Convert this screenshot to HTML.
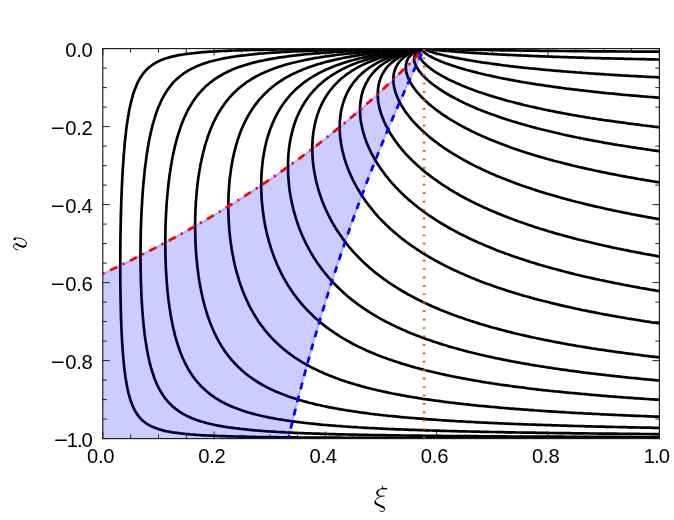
<!DOCTYPE html>
<html><head><meta charset="utf-8"><style>
html,body{margin:0;padding:0;background:#fff}
svg{display:block}
text{font-family:"Liberation Sans",sans-serif;font-size:20.2px;fill:#000}
.ax{font-family:"Liberation Serif",serif;font-style:italic;font-size:29px}
</style></head><body>
<svg width="674" height="520" viewBox="0 0 674 520">
<rect width="674" height="520" fill="#fff"/>
<defs><clipPath id="c"><rect x="102.8" y="48.6" width="556.6" height="390.0"/></clipPath></defs>
<g clip-path="url(#c)">
<g fill="none" stroke="#000" stroke-width="2.7" stroke-linejoin="round" stroke-linecap="butt">
<path d="M424.1 48.6 L425.5 48.6 L426.9 48.7 L428.3 48.7 L430.1 48.8 L432.3 48.8 L434.5 48.9 L436.8 49.0 L439.0 49.0 L441.2 49.1 L443.4 49.1 L445.7 49.2 L447.9 49.2 L450.1 49.3 L452.3 49.3 L454.6 49.4 L456.8 49.4 L459.0 49.5 L461.2 49.5 L463.5 49.6 L465.7 49.6 L467.9 49.7 L470.1 49.7 L472.4 49.8 L474.6 49.8 L476.8 49.8 L479.0 49.9 L481.3 49.9 L483.5 50.0 L485.7 50.0 L488.0 50.0 L490.2 50.1 L492.4 50.1 L494.6 50.1 L496.9 50.2 L499.1 50.2 L501.3 50.3 L503.5 50.3 L505.8 50.3 L508.0 50.4 L510.2 50.4 L512.4 50.4 L514.7 50.4 L516.9 50.5 L519.1 50.5 L521.3 50.5 L523.6 50.6 L525.8 50.6 L528.0 50.6 L530.2 50.6 L532.5 50.7 L534.7 50.7 L536.9 50.7 L539.1 50.8 L541.4 50.8 L543.6 50.8 L545.8 50.8 L548.0 50.9 L550.3 50.9 L552.5 50.9 L554.7 50.9 L557.0 50.9 L559.2 51.0 L561.4 51.0 L563.6 51.0 L565.9 51.0 L568.1 51.1 L570.3 51.1 L572.5 51.1 L574.8 51.1 L577.0 51.1 L579.2 51.2 L581.4 51.2 L583.7 51.2 L585.9 51.2 L588.1 51.2 L590.3 51.3 L592.6 51.3 L594.8 51.3 L597.0 51.3 L599.2 51.3 L601.5 51.3 L603.7 51.4 L605.9 51.4 L608.1 51.4 L610.4 51.4 L612.6 51.4 L614.8 51.4 L617.1 51.5 L619.3 51.5 L621.5 51.5 L623.7 51.5 L626.0 51.5 L628.2 51.5 L630.4 51.5 L632.6 51.6 L634.9 51.6 L637.1 51.6 L639.3 51.6 L641.5 51.6 L643.8 51.6 L646.0 51.6 L648.2 51.7 L650.4 51.7 L652.7 51.7 L654.9 51.7 L657.1 51.7 L659.4 51.7 L661.6 51.7 L663.8 51.7 L666.0 51.8 L668.3 51.8 L670.5 51.8 L670.5 51.8"/>
<path d="M424.1 48.6 L425.5 48.8 L427.0 49.0 L428.6 49.2 L429.9 49.3 L431.7 49.5 L433.9 49.8 L436.1 50.0 L438.3 50.2 L440.5 50.4 L442.7 50.6 L445.0 50.8 L447.2 51.0 L449.4 51.2 L451.6 51.3 L453.8 51.5 L456.0 51.7 L458.2 51.8 L460.4 52.0 L462.7 52.2 L464.9 52.3 L467.1 52.5 L469.3 52.6 L471.5 52.8 L473.7 52.9 L475.9 53.1 L478.2 53.2 L480.4 53.3 L482.6 53.5 L484.8 53.6 L487.0 53.7 L489.3 53.9 L491.5 54.0 L493.7 54.1 L495.9 54.2 L498.1 54.4 L500.4 54.5 L502.6 54.6 L504.8 54.7 L507.0 54.8 L509.2 54.9 L511.5 55.0 L513.7 55.1 L515.9 55.2 L518.1 55.3 L520.3 55.4 L522.6 55.5 L524.8 55.6 L527.0 55.7 L529.2 55.8 L531.5 55.9 L533.7 56.0 L535.9 56.1 L538.1 56.2 L540.3 56.3 L542.6 56.4 L544.8 56.4 L547.0 56.5 L549.2 56.6 L551.5 56.7 L553.7 56.8 L555.9 56.8 L558.1 56.9 L560.4 57.0 L562.6 57.1 L564.8 57.1 L567.0 57.2 L569.2 57.3 L571.5 57.4 L573.7 57.4 L575.9 57.5 L578.1 57.6 L580.4 57.6 L582.6 57.7 L584.8 57.8 L587.0 57.8 L589.3 57.9 L591.5 58.0 L593.7 58.0 L595.9 58.1 L598.2 58.1 L600.4 58.2 L602.6 58.3 L604.8 58.3 L607.1 58.4 L609.3 58.4 L611.5 58.5 L613.7 58.5 L616.0 58.6 L618.2 58.6 L620.4 58.7 L622.6 58.7 L624.9 58.8 L627.1 58.8 L629.3 58.9 L631.5 58.9 L633.8 59.0 L636.0 59.0 L638.2 59.1 L640.4 59.1 L642.7 59.2 L644.9 59.2 L647.1 59.3 L649.3 59.3 L651.6 59.4 L653.8 59.4 L656.0 59.5 L658.2 59.5 L660.5 59.5 L662.7 59.6 L664.9 59.6 L667.1 59.7 L669.4 59.7 L670.5 59.7"/>
<path d="M424.1 48.6 L425.0 49.5 L426.2 50.1 L427.4 50.6 L429.1 51.2 L430.6 51.7 L432.5 52.3 L434.5 52.9 L436.6 53.5 L438.7 54.0 L440.8 54.5 L442.9 55.0 L445.0 55.5 L447.1 56.0 L449.2 56.5 L451.4 56.9 L453.5 57.4 L455.7 57.8 L457.8 58.2 L459.9 58.6 L462.1 59.0 L464.3 59.4 L466.4 59.8 L468.6 60.2 L470.7 60.5 L472.9 60.9 L475.1 61.2 L477.2 61.6 L479.4 61.9 L481.6 62.3 L483.8 62.6 L485.9 62.9 L488.1 63.2 L490.3 63.5 L492.5 63.8 L494.7 64.1 L496.9 64.4 L499.1 64.7 L501.2 65.0 L503.4 65.3 L505.6 65.5 L507.8 65.8 L510.0 66.1 L512.2 66.3 L514.4 66.6 L516.6 66.8 L518.8 67.1 L521.0 67.3 L523.2 67.6 L525.4 67.8 L527.6 68.0 L529.8 68.3 L532.0 68.5 L534.2 68.7 L536.4 68.9 L538.6 69.1 L540.8 69.4 L543.0 69.6 L545.2 69.8 L547.4 70.0 L549.7 70.2 L551.9 70.4 L554.1 70.6 L556.3 70.8 L558.5 70.9 L560.7 71.1 L562.9 71.3 L565.1 71.5 L567.3 71.7 L569.5 71.8 L571.8 72.0 L574.0 72.2 L576.2 72.4 L578.4 72.5 L580.6 72.7 L582.8 72.9 L585.0 73.0 L587.3 73.2 L589.5 73.3 L591.7 73.5 L593.9 73.6 L596.1 73.8 L598.3 73.9 L600.5 74.1 L602.8 74.2 L605.0 74.4 L607.2 74.5 L609.4 74.6 L611.6 74.8 L613.8 74.9 L616.1 75.1 L618.3 75.2 L620.5 75.3 L622.7 75.5 L624.9 75.6 L627.2 75.7 L629.4 75.8 L631.6 76.0 L633.8 76.1 L636.0 76.2 L638.3 76.3 L640.5 76.4 L642.7 76.5 L644.9 76.7 L647.1 76.8 L649.4 76.9 L651.6 77.0 L653.8 77.1 L656.0 77.2 L658.2 77.3 L660.5 77.4 L662.7 77.5 L664.9 77.6 L667.1 77.7 L669.3 77.8 L670.5 77.9"/>
<path d="M424.1 48.6 L423.1 49.2 L423.0 50.5 L423.8 51.7 L424.8 52.7 L425.8 53.6 L427.2 54.5 L428.8 55.6 L430.6 56.5 L432.4 57.5 L434.2 58.4 L436.0 59.2 L437.9 60.1 L439.8 60.9 L441.7 61.7 L443.7 62.4 L445.6 63.2 L447.6 63.9 L449.6 64.6 L451.6 65.3 L453.6 65.9 L455.6 66.6 L457.7 67.2 L459.7 67.9 L461.8 68.5 L463.8 69.1 L465.9 69.7 L467.9 70.2 L470.0 70.8 L472.1 71.4 L474.2 71.9 L476.3 72.4 L478.4 73.0 L480.5 73.5 L482.6 74.0 L484.7 74.5 L486.8 75.0 L488.9 75.4 L491.0 75.9 L493.2 76.4 L495.3 76.8 L497.4 77.3 L499.6 77.7 L501.7 78.2 L503.8 78.6 L506.0 79.0 L508.1 79.4 L510.3 79.8 L512.4 80.2 L514.6 80.6 L516.7 81.0 L518.9 81.4 L521.1 81.8 L523.2 82.1 L525.4 82.5 L527.6 82.9 L529.7 83.2 L531.9 83.6 L534.1 83.9 L536.2 84.3 L538.4 84.6 L540.6 84.9 L542.8 85.2 L544.9 85.6 L547.1 85.9 L549.3 86.2 L551.5 86.5 L553.7 86.8 L555.9 87.1 L558.0 87.4 L560.2 87.7 L562.4 88.0 L564.6 88.3 L566.8 88.6 L569.0 88.8 L571.2 89.1 L573.4 89.4 L575.6 89.6 L577.8 89.9 L579.9 90.2 L582.1 90.4 L584.3 90.7 L586.5 90.9 L588.7 91.2 L590.9 91.4 L593.1 91.7 L595.3 91.9 L597.5 92.1 L599.7 92.4 L601.9 92.6 L604.1 92.8 L606.3 93.1 L608.5 93.3 L610.8 93.5 L613.0 93.7 L615.2 93.9 L617.4 94.1 L619.6 94.3 L621.8 94.6 L624.0 94.8 L626.2 95.0 L628.4 95.2 L630.6 95.4 L632.8 95.6 L635.0 95.7 L637.2 95.9 L639.4 96.1 L641.7 96.3 L643.9 96.5 L646.1 96.7 L648.3 96.9 L650.5 97.0 L652.7 97.2 L654.9 97.4 L657.1 97.6 L659.4 97.7 L661.6 97.9 L663.8 98.1 L666.0 98.2 L668.2 98.4 L670.4 98.6 L670.5 98.6"/>
<path d="M424.1 48.6 L422.9 48.9 L421.7 49.5 L420.6 50.3 L419.8 51.3 L419.2 52.7 L419.1 54.3 L419.4 56.1 L420.0 57.6 L420.9 59.0 L421.8 60.4 L423.0 61.8 L424.2 63.1 L425.5 64.3 L426.8 65.6 L428.3 66.8 L429.7 67.9 L431.3 69.1 L432.8 70.2 L434.4 71.3 L436.1 72.3 L437.7 73.4 L439.4 74.4 L441.1 75.4 L442.9 76.4 L444.6 77.3 L446.4 78.3 L448.2 79.2 L450.0 80.1 L451.8 81.0 L453.7 81.8 L455.6 82.7 L457.4 83.5 L459.3 84.3 L461.2 85.2 L463.1 86.0 L465.1 86.7 L467.0 87.5 L468.9 88.3 L470.9 89.0 L472.9 89.8 L474.8 90.5 L476.8 91.2 L478.8 91.9 L480.8 92.6 L482.8 93.3 L484.8 93.9 L486.8 94.6 L488.8 95.2 L490.9 95.9 L492.9 96.5 L495.0 97.1 L497.0 97.7 L499.1 98.3 L501.1 98.9 L503.2 99.5 L505.2 100.1 L507.3 100.7 L509.4 101.2 L511.5 101.8 L513.6 102.3 L515.7 102.9 L517.7 103.4 L519.8 103.9 L521.9 104.4 L524.0 105.0 L526.2 105.5 L528.3 106.0 L530.4 106.5 L532.5 106.9 L534.6 107.4 L536.7 107.9 L538.9 108.3 L541.0 108.8 L543.1 109.3 L545.2 109.7 L547.4 110.2 L549.5 110.6 L551.7 111.0 L553.8 111.4 L555.9 111.9 L558.1 112.3 L560.2 112.7 L562.4 113.1 L564.5 113.5 L566.7 113.9 L568.8 114.3 L571.0 114.7 L573.2 115.1 L575.3 115.4 L577.5 115.8 L579.6 116.2 L581.8 116.5 L584.0 116.9 L586.1 117.3 L588.3 117.6 L590.5 118.0 L592.7 118.3 L594.8 118.6 L597.0 119.0 L599.2 119.3 L601.4 119.6 L603.5 120.0 L605.7 120.3 L607.9 120.6 L610.1 120.9 L612.3 121.2 L614.4 121.5 L616.6 121.8 L618.8 122.1 L621.0 122.4 L623.2 122.7 L625.4 123.0 L627.5 123.3 L629.7 123.6 L631.9 123.9 L634.1 124.2 L636.3 124.4 L638.5 124.7 L640.7 125.0 L642.9 125.3 L645.1 125.5 L647.3 125.8 L649.5 126.0 L651.7 126.3 L653.9 126.6 L656.1 126.8 L658.3 127.1 L660.4 127.3 L662.6 127.6 L664.8 127.8 L667.0 128.0 L669.2 128.3 L670.5 128.4"/>
<path d="M424.1 48.6 L422.8 48.9 L421.6 49.3 L420.4 49.8 L419.2 50.4 L418.2 51.1 L417.2 52.0 L416.1 53.1 L415.3 54.3 L414.7 55.7 L414.3 57.0 L414.1 58.5 L414.2 60.1 L414.4 61.6 L414.8 63.1 L415.4 64.7 L416.1 66.1 L416.9 67.6 L417.8 69.0 L418.7 70.4 L419.8 71.8 L420.9 73.2 L422.0 74.5 L423.2 75.8 L424.5 77.1 L425.8 78.4 L427.1 79.6 L428.5 80.8 L430.0 82.0 L431.4 83.2 L432.9 84.4 L434.4 85.5 L436.0 86.6 L437.5 87.7 L439.1 88.8 L440.7 89.9 L442.4 91.0 L444.0 92.0 L445.7 93.0 L447.4 94.0 L449.1 95.0 L450.8 96.0 L452.6 97.0 L454.4 97.9 L456.1 98.9 L457.9 99.8 L459.7 100.7 L461.5 101.6 L463.4 102.5 L465.2 103.4 L467.1 104.2 L468.9 105.1 L470.8 105.9 L472.7 106.7 L474.6 107.6 L476.5 108.4 L478.4 109.2 L480.4 109.9 L482.3 110.7 L484.2 111.5 L486.2 112.2 L488.1 113.0 L490.1 113.7 L492.1 114.4 L494.1 115.1 L496.0 115.8 L498.0 116.5 L500.0 117.2 L502.0 117.9 L504.1 118.6 L506.1 119.2 L508.1 119.9 L510.1 120.5 L512.2 121.2 L514.2 121.8 L516.2 122.4 L518.3 123.0 L520.3 123.6 L522.4 124.2 L524.5 124.8 L526.5 125.4 L528.6 126.0 L530.7 126.5 L532.7 127.1 L534.8 127.6 L536.9 128.2 L539.0 128.7 L541.1 129.3 L543.2 129.8 L545.3 130.3 L547.4 130.8 L549.5 131.3 L551.6 131.8 L553.7 132.3 L555.8 132.8 L557.9 133.3 L560.1 133.8 L562.2 134.3 L564.3 134.8 L566.4 135.2 L568.5 135.7 L570.7 136.1 L572.8 136.6 L574.9 137.0 L577.1 137.5 L579.2 137.9 L581.4 138.3 L583.5 138.8 L585.6 139.2 L587.8 139.6 L589.9 140.0 L592.1 140.4 L594.2 140.8 L596.4 141.2 L598.5 141.6 L600.7 142.0 L602.9 142.4 L605.0 142.8 L607.2 143.1 L609.3 143.5 L611.5 143.9 L613.7 144.3 L615.8 144.6 L618.0 145.0 L620.2 145.3 L622.3 145.7 L624.5 146.0 L626.7 146.4 L628.8 146.7 L631.0 147.1 L633.2 147.4 L635.4 147.7 L637.5 148.1 L639.7 148.4 L641.9 148.7 L644.1 149.0 L646.3 149.3 L648.4 149.7 L650.6 150.0 L652.8 150.3 L655.0 150.6 L657.2 150.9 L659.4 151.2 L661.5 151.5 L663.7 151.8 L665.9 152.0 L668.1 152.3 L670.3 152.6 L670.5 152.6"/>
<path d="M424.1 48.6 L422.9 48.8 L421.7 49.1 L420.5 49.5 L419.4 49.9 L418.1 50.4 L416.6 51.1 L415.4 51.7 L414.2 52.5 L412.8 53.4 L411.4 54.6 L410.5 55.5 L409.6 56.5 L408.6 57.7 L407.8 59.2 L407.1 60.6 L406.5 62.2 L406.2 63.7 L405.9 65.2 L405.8 66.8 L405.8 68.4 L406.0 69.9 L406.2 71.5 L406.5 73.0 L407.0 74.5 L407.5 76.1 L408.0 77.6 L408.7 79.1 L409.4 80.5 L410.2 82.0 L411.0 83.5 L411.9 84.9 L412.8 86.3 L413.8 87.7 L414.8 89.1 L415.8 90.5 L416.9 91.8 L418.1 93.2 L419.3 94.5 L420.5 95.8 L421.7 97.1 L423.0 98.4 L424.3 99.7 L425.6 100.9 L426.9 102.1 L428.3 103.4 L429.7 104.6 L431.1 105.8 L432.6 107.0 L434.1 108.1 L435.5 109.3 L437.1 110.4 L438.6 111.6 L440.2 112.7 L441.7 113.8 L443.3 114.9 L444.9 116.0 L446.5 117.0 L448.2 118.1 L449.8 119.1 L451.5 120.2 L453.2 121.2 L454.9 122.2 L456.6 123.2 L458.3 124.2 L460.1 125.1 L461.8 126.1 L463.6 127.0 L465.4 128.0 L467.2 128.9 L469.0 129.8 L470.8 130.7 L472.6 131.6 L474.5 132.5 L476.3 133.4 L478.2 134.2 L480.0 135.1 L481.9 135.9 L483.8 136.8 L485.7 137.6 L487.6 138.4 L489.5 139.2 L491.4 140.0 L493.3 140.8 L495.2 141.6 L497.2 142.3 L499.1 143.1 L501.1 143.8 L503.0 144.6 L505.0 145.3 L507.0 146.0 L508.9 146.8 L510.9 147.5 L512.9 148.2 L514.9 148.9 L516.9 149.6 L518.9 150.2 L520.9 150.9 L522.9 151.6 L525.0 152.2 L527.0 152.9 L529.0 153.5 L531.0 154.1 L533.1 154.8 L535.1 155.4 L537.2 156.0 L539.2 156.6 L541.3 157.2 L543.3 157.8 L545.4 158.4 L547.5 159.0 L549.5 159.5 L551.6 160.1 L553.7 160.7 L555.8 161.2 L557.9 161.8 L559.9 162.3 L562.0 162.8 L564.1 163.4 L566.2 163.9 L568.3 164.4 L570.4 164.9 L572.5 165.5 L574.6 166.0 L576.7 166.5 L578.9 167.0 L581.0 167.4 L583.1 167.9 L585.2 168.4 L587.3 168.9 L589.4 169.3 L591.6 169.8 L593.7 170.3 L595.8 170.7 L598.0 171.2 L600.1 171.6 L602.2 172.1 L604.4 172.5 L606.5 172.9 L608.6 173.4 L610.8 173.8 L612.9 174.2 L615.1 174.6 L617.2 175.0 L619.4 175.5 L621.5 175.9 L623.7 176.3 L625.8 176.7 L628.0 177.1 L630.1 177.4 L632.3 177.8 L634.4 178.2 L636.6 178.6 L638.8 179.0 L640.9 179.3 L643.1 179.7 L645.3 180.1 L647.4 180.4 L649.6 180.8 L651.8 181.2 L653.9 181.5 L656.1 181.9 L658.3 182.2 L660.4 182.5 L662.6 182.9 L664.8 183.2 L667.0 183.6 L669.1 183.9 L670.5 184.1"/>
<path d="M424.1 48.6 L422.8 48.8 L421.6 49.1 L420.2 49.4 L418.8 49.8 L417.6 50.2 L416.3 50.6 L414.8 51.2 L413.1 51.8 L411.9 52.4 L410.7 53.0 L409.4 53.6 L408.0 54.4 L406.6 55.3 L405.2 56.3 L403.7 57.4 L402.3 58.7 L401.0 59.9 L399.8 61.2 L398.7 62.6 L397.8 64.0 L396.9 65.4 L396.1 66.9 L395.5 68.4 L394.9 69.9 L394.4 71.4 L394.0 73.0 L393.7 74.5 L393.5 76.1 L393.4 77.6 L393.4 79.2 L393.4 80.7 L393.5 82.3 L393.6 83.9 L393.9 85.4 L394.1 87.0 L394.5 88.5 L394.9 90.0 L395.3 91.6 L395.8 93.1 L396.3 94.6 L396.9 96.1 L397.5 97.6 L398.2 99.1 L398.9 100.6 L399.6 102.0 L400.4 103.5 L401.2 105.0 L402.1 106.4 L403.0 107.8 L403.9 109.3 L404.8 110.7 L405.8 112.1 L406.8 113.5 L407.8 114.8 L408.9 116.2 L410.0 117.6 L411.1 118.9 L412.2 120.3 L413.4 121.6 L414.6 122.9 L415.8 124.2 L417.1 125.5 L418.3 126.8 L419.6 128.1 L420.9 129.3 L422.2 130.6 L423.6 131.8 L424.9 133.1 L426.3 134.3 L427.7 135.5 L429.2 136.7 L430.6 137.9 L432.1 139.1 L433.5 140.2 L435.0 141.4 L436.6 142.5 L438.1 143.7 L439.6 144.8 L441.2 145.9 L442.8 147.0 L444.3 148.1 L446.0 149.2 L447.6 150.2 L449.2 151.3 L450.9 152.3 L452.5 153.4 L454.2 154.4 L455.9 155.4 L457.6 156.4 L459.3 157.4 L461.0 158.4 L462.7 159.4 L464.5 160.4 L466.2 161.3 L468.0 162.3 L469.8 163.2 L471.6 164.1 L473.4 165.1 L475.2 166.0 L477.0 166.9 L478.8 167.8 L480.7 168.6 L482.5 169.5 L484.4 170.4 L486.2 171.2 L488.1 172.1 L490.0 172.9 L491.9 173.7 L493.8 174.6 L495.7 175.4 L497.6 176.2 L499.5 177.0 L501.4 177.8 L503.3 178.5 L505.3 179.3 L507.2 180.1 L509.2 180.8 L511.1 181.6 L513.1 182.3 L515.1 183.0 L517.0 183.8 L519.0 184.5 L521.0 185.2 L523.0 185.9 L525.0 186.6 L527.0 187.3 L529.0 187.9 L531.0 188.6 L533.0 189.3 L535.0 189.9 L537.1 190.6 L539.1 191.2 L541.1 191.9 L543.1 192.5 L545.2 193.1 L547.2 193.7 L549.3 194.3 L551.3 194.9 L553.4 195.5 L555.4 196.1 L557.5 196.7 L559.6 197.3 L561.6 197.9 L563.7 198.5 L565.8 199.0 L567.9 199.6 L569.9 200.1 L572.0 200.7 L574.1 201.2 L576.2 201.8 L578.3 202.3 L580.4 202.8 L582.5 203.3 L584.6 203.9 L586.7 204.4 L588.8 204.9 L590.9 205.4 L593.0 205.9 L595.1 206.4 L597.3 206.8 L599.4 207.3 L601.5 207.8 L603.6 208.3 L605.7 208.8 L607.9 209.2 L610.0 209.7 L612.1 210.1 L614.2 210.6 L616.4 211.0 L618.5 211.5 L620.6 211.9 L622.8 212.4 L624.9 212.8 L627.1 213.2 L629.2 213.6 L631.4 214.1 L633.5 214.5 L635.6 214.9 L637.8 215.3 L639.9 215.7 L642.1 216.1 L644.2 216.5 L646.4 216.9 L648.6 217.3 L650.7 217.7 L652.9 218.1 L655.0 218.4 L657.2 218.8 L659.4 219.2 L661.5 219.6 L663.7 219.9 L665.8 220.3 L668.0 220.7 L670.2 221.0 L670.5 221.1"/>
<path d="M424.1 48.6 L422.8 48.8 L421.5 49.0 L420.3 49.3 L418.7 49.6 L417.4 50.0 L415.8 50.4 L414.6 50.7 L413.3 51.1 L412.0 51.5 L410.5 52.0 L409.0 52.6 L407.3 53.3 L405.6 54.0 L403.8 54.8 L402.0 55.7 L400.2 56.7 L398.5 57.7 L396.9 58.7 L395.3 59.8 L393.7 60.9 L392.3 62.1 L390.9 63.3 L389.6 64.6 L388.3 65.9 L387.1 67.2 L386.0 68.5 L385.0 69.9 L384.1 71.3 L383.2 72.8 L382.4 74.2 L381.7 75.7 L381.0 77.2 L380.4 78.7 L379.9 80.2 L379.4 81.7 L379.0 83.3 L378.7 84.8 L378.4 86.4 L378.2 87.9 L378.0 89.5 L377.9 91.0 L377.8 92.6 L377.8 94.1 L377.8 95.7 L377.9 97.3 L378.0 98.8 L378.1 100.4 L378.3 101.9 L378.6 103.5 L378.9 105.0 L379.2 106.6 L379.5 108.1 L379.9 109.7 L380.4 111.2 L380.8 112.7 L381.3 114.2 L381.8 115.7 L382.4 117.3 L383.0 118.8 L383.6 120.3 L384.2 121.8 L384.9 123.2 L385.6 124.7 L386.3 126.2 L387.1 127.7 L387.9 129.1 L388.7 130.6 L389.5 132.0 L390.4 133.5 L391.3 134.9 L392.2 136.3 L393.1 137.7 L394.1 139.1 L395.0 140.5 L396.0 141.9 L397.1 143.3 L398.1 144.7 L399.2 146.1 L400.3 147.4 L401.4 148.8 L402.5 150.1 L403.7 151.5 L404.8 152.8 L406.0 154.1 L407.2 155.4 L408.5 156.7 L409.7 158.0 L411.0 159.3 L412.3 160.6 L413.6 161.8 L414.9 163.1 L416.3 164.3 L417.6 165.5 L419.0 166.8 L420.4 168.0 L421.8 169.2 L423.2 170.4 L424.7 171.6 L426.1 172.8 L427.6 173.9 L429.1 175.1 L430.6 176.2 L432.1 177.4 L433.6 178.5 L435.2 179.6 L436.8 180.7 L438.3 181.8 L439.9 182.9 L441.5 184.0 L443.1 185.1 L444.8 186.1 L446.4 187.2 L448.1 188.2 L449.7 189.3 L451.4 190.3 L453.1 191.3 L454.8 192.3 L456.5 193.3 L458.3 194.3 L460.0 195.3 L461.7 196.3 L463.5 197.2 L465.3 198.2 L467.0 199.1 L468.8 200.0 L470.6 201.0 L472.4 201.9 L474.2 202.8 L476.1 203.7 L477.9 204.5 L479.7 205.4 L481.6 206.3 L483.4 207.2 L485.3 208.0 L487.2 208.8 L489.1 209.7 L491.0 210.5 L492.8 211.3 L494.8 212.1 L496.7 212.9 L498.6 213.7 L500.5 214.5 L502.4 215.3 L504.4 216.1 L506.3 216.8 L508.3 217.6 L510.2 218.3 L512.2 219.1 L514.1 219.8 L516.1 220.5 L518.1 221.2 L520.1 221.9 L522.1 222.6 L524.1 223.3 L526.1 224.0 L528.1 224.7 L530.1 225.4 L532.1 226.0 L534.1 226.7 L536.1 227.4 L538.1 228.0 L540.2 228.7 L542.2 229.3 L544.2 229.9 L546.3 230.5 L548.3 231.2 L550.4 231.8 L552.4 232.4 L554.5 233.0 L556.5 233.6 L558.6 234.1 L560.7 234.7 L562.7 235.3 L564.8 235.9 L566.9 236.4 L569.0 237.0 L571.1 237.5 L573.1 238.1 L575.2 238.6 L577.3 239.2 L579.4 239.7 L581.5 240.2 L583.6 240.7 L585.7 241.3 L587.8 241.8 L589.9 242.3 L592.0 242.8 L594.1 243.3 L596.2 243.8 L598.4 244.3 L600.5 244.7 L602.6 245.2 L604.7 245.7 L606.8 246.2 L609.0 246.6 L611.1 247.1 L613.2 247.6 L615.3 248.0 L617.5 248.5 L619.6 248.9 L621.7 249.3 L623.9 249.8 L626.0 250.2 L628.2 250.6 L630.3 251.1 L632.4 251.5 L634.6 251.9 L636.7 252.3 L638.9 252.7 L641.0 253.1 L643.2 253.6 L645.3 254.0 L647.5 254.3 L649.6 254.7 L651.8 255.1 L654.0 255.5 L656.1 255.9 L658.3 256.3 L660.4 256.7 L662.6 257.0 L664.8 257.4 L666.9 257.8 L669.1 258.1 L670.5 258.4"/>
<path d="M424.1 48.6 L422.8 48.8 L421.4 49.0 L420.1 49.2 L418.8 49.5 L417.3 49.8 L415.5 50.2 L414.2 50.5 L412.7 50.8 L411.2 51.2 L409.5 51.7 L407.7 52.3 L405.7 52.9 L403.7 53.5 L401.8 54.2 L399.8 55.0 L397.9 55.8 L396.0 56.6 L394.1 57.5 L392.3 58.3 L390.5 59.3 L388.8 60.2 L387.1 61.3 L385.4 62.3 L383.8 63.4 L382.2 64.5 L380.7 65.6 L379.3 66.8 L377.9 68.0 L376.5 69.3 L375.2 70.5 L374.0 71.8 L372.8 73.2 L371.7 74.5 L370.6 75.9 L369.6 77.3 L368.7 78.7 L367.8 80.1 L367.0 81.6 L366.2 83.0 L365.4 84.5 L364.8 86.0 L364.1 87.5 L363.5 89.0 L363.0 90.5 L362.5 92.0 L362.1 93.5 L361.7 95.1 L361.4 96.6 L361.1 98.2 L360.8 99.7 L360.6 101.3 L360.4 102.8 L360.3 104.4 L360.1 105.9 L360.1 107.5 L360.0 109.1 L360.0 110.6 L360.1 112.2 L360.1 113.7 L360.2 115.3 L360.4 116.9 L360.5 118.4 L360.7 120.0 L360.9 121.5 L361.2 123.1 L361.5 124.6 L361.8 126.2 L362.1 127.7 L362.5 129.2 L362.8 130.8 L363.3 132.3 L363.7 133.8 L364.2 135.4 L364.6 136.9 L365.2 138.4 L365.7 139.9 L366.2 141.4 L366.8 142.9 L367.4 144.4 L368.1 145.9 L368.7 147.4 L369.4 148.9 L370.1 150.4 L370.8 151.9 L371.5 153.3 L372.3 154.8 L373.1 156.3 L373.9 157.7 L374.7 159.2 L375.6 160.6 L376.4 162.0 L377.3 163.5 L378.2 164.9 L379.2 166.3 L380.1 167.7 L381.1 169.1 L382.1 170.5 L383.1 171.9 L384.1 173.3 L385.1 174.7 L386.2 176.1 L387.3 177.4 L388.4 178.8 L389.5 180.1 L390.6 181.5 L391.8 182.8 L393.0 184.1 L394.2 185.4 L395.4 186.8 L396.6 188.1 L397.9 189.3 L399.1 190.6 L400.4 191.9 L401.7 193.2 L403.0 194.4 L404.3 195.7 L405.7 196.9 L407.1 198.2 L408.4 199.4 L409.8 200.6 L411.2 201.8 L412.7 203.0 L414.1 204.2 L415.6 205.4 L417.0 206.5 L418.5 207.7 L420.0 208.9 L421.5 210.0 L423.1 211.1 L424.6 212.3 L426.2 213.4 L427.7 214.5 L429.3 215.6 L430.9 216.7 L432.5 217.7 L434.2 218.8 L435.8 219.9 L437.4 220.9 L439.1 221.9 L440.8 223.0 L442.5 224.0 L444.2 225.0 L445.9 226.0 L447.6 227.0 L449.3 228.0 L451.0 229.0 L452.8 229.9 L454.6 230.9 L456.3 231.8 L458.1 232.8 L459.9 233.7 L461.7 234.6 L463.5 235.5 L465.3 236.4 L467.2 237.3 L469.0 238.2 L470.8 239.1 L472.7 239.9 L474.5 240.8 L476.4 241.6 L478.3 242.5 L480.2 243.3 L482.1 244.1 L484.0 244.9 L485.9 245.8 L487.8 246.5 L489.7 247.3 L491.6 248.1 L493.6 248.9 L495.5 249.7 L497.4 250.4 L499.4 251.2 L501.4 251.9 L503.3 252.6 L505.3 253.4 L507.3 254.1 L509.2 254.8 L511.2 255.5 L513.2 256.2 L515.2 256.9 L517.2 257.6 L519.2 258.3 L521.2 258.9 L523.2 259.6 L525.3 260.3 L527.3 260.9 L529.3 261.5 L531.3 262.2 L533.4 262.8 L535.4 263.4 L537.5 264.1 L539.5 264.7 L541.6 265.3 L543.6 265.9 L545.7 266.5 L547.7 267.0 L549.8 267.6 L551.9 268.2 L554.0 268.8 L556.0 269.3 L558.1 269.9 L560.2 270.4 L562.3 271.0 L564.4 271.5 L566.5 272.1 L568.5 272.6 L570.6 273.1 L572.7 273.6 L574.8 274.2 L576.9 274.7 L579.1 275.2 L581.2 275.7 L583.3 276.2 L585.4 276.7 L587.5 277.2 L589.6 277.6 L591.7 278.1 L593.9 278.6 L596.0 279.1 L598.1 279.5 L600.2 280.0 L602.4 280.4 L604.5 280.9 L606.6 281.3 L608.8 281.8 L610.9 282.2 L613.0 282.6 L615.2 283.1 L617.3 283.5 L619.5 283.9 L621.6 284.3 L623.8 284.8 L625.9 285.2 L628.0 285.6 L630.2 286.0 L632.3 286.4 L634.5 286.8 L636.7 287.2 L638.8 287.6 L641.0 288.0 L643.1 288.3 L645.3 288.7 L647.4 289.1 L649.6 289.5 L651.8 289.8 L653.9 290.2 L656.1 290.6 L658.3 290.9 L660.4 291.3 L662.6 291.6 L664.8 292.0 L666.9 292.3 L669.1 292.7 L670.5 292.9"/>
<path d="M424.1 48.6 L422.9 48.7 L421.4 48.9 L419.9 49.2 L418.5 49.4 L416.7 49.7 L415.4 50.0 L413.9 50.2 L412.3 50.6 L410.6 50.9 L408.7 51.4 L406.6 51.9 L404.5 52.4 L402.5 53.0 L400.4 53.5 L398.4 54.2 L396.3 54.8 L394.3 55.5 L392.3 56.2 L390.4 56.9 L388.4 57.6 L386.5 58.4 L384.6 59.3 L382.7 60.1 L380.9 61.0 L379.1 61.9 L377.3 62.8 L375.5 63.8 L373.8 64.8 L372.2 65.8 L370.5 66.9 L368.9 68.0 L367.4 69.1 L365.9 70.2 L364.4 71.4 L363.0 72.6 L361.6 73.8 L360.3 75.1 L359.0 76.3 L357.7 77.6 L356.5 79.0 L355.4 80.3 L354.3 81.6 L353.2 83.0 L352.2 84.4 L351.2 85.8 L350.3 87.2 L349.4 88.7 L348.6 90.1 L347.8 91.6 L347.1 93.0 L346.4 94.5 L345.7 96.0 L345.1 97.5 L344.5 99.0 L344.0 100.5 L343.4 102.0 L343.0 103.6 L342.5 105.1 L342.1 106.6 L341.8 108.2 L341.4 109.7 L341.1 111.3 L340.8 112.8 L340.6 114.4 L340.4 115.9 L340.2 117.5 L340.1 119.0 L339.9 120.6 L339.8 122.1 L339.8 123.7 L339.7 125.3 L339.7 126.8 L339.7 128.4 L339.7 129.9 L339.8 131.5 L339.9 133.1 L340.0 134.6 L340.1 136.2 L340.3 137.7 L340.5 139.3 L340.7 140.8 L340.9 142.4 L341.1 143.9 L341.4 145.5 L341.7 147.0 L342.0 148.6 L342.3 150.1 L342.7 151.7 L343.1 153.2 L343.4 154.7 L343.9 156.3 L344.3 157.8 L344.7 159.3 L345.2 160.8 L345.7 162.4 L346.2 163.9 L346.8 165.4 L347.3 166.9 L347.9 168.4 L348.5 169.9 L349.1 171.4 L349.7 172.9 L350.4 174.4 L351.0 175.9 L351.7 177.4 L352.4 178.9 L353.1 180.3 L353.9 181.8 L354.6 183.3 L355.4 184.7 L356.2 186.2 L357.0 187.6 L357.9 189.1 L358.7 190.5 L359.6 192.0 L360.5 193.4 L361.4 194.8 L362.3 196.2 L363.3 197.7 L364.2 199.1 L365.2 200.5 L366.2 201.9 L367.2 203.2 L368.2 204.6 L369.3 206.0 L370.4 207.4 L371.5 208.7 L372.6 210.1 L373.7 211.4 L374.8 212.8 L376.0 214.1 L377.1 215.4 L378.3 216.8 L379.5 218.1 L380.8 219.4 L382.0 220.7 L383.3 221.9 L384.6 223.2 L385.8 224.5 L387.2 225.8 L388.5 227.0 L389.8 228.3 L391.2 229.5 L392.6 230.7 L393.9 231.9 L395.4 233.1 L396.8 234.3 L398.2 235.5 L399.7 236.7 L401.1 237.9 L402.6 239.1 L404.1 240.2 L405.6 241.4 L407.1 242.5 L408.7 243.6 L410.2 244.7 L411.8 245.8 L413.4 246.9 L415.0 248.0 L416.6 249.1 L418.2 250.2 L419.8 251.2 L421.5 252.3 L423.1 253.3 L424.8 254.4 L426.5 255.4 L428.2 256.4 L429.9 257.4 L431.6 258.4 L433.3 259.4 L435.1 260.3 L436.8 261.3 L438.6 262.3 L440.4 263.2 L442.2 264.1 L443.9 265.1 L445.7 266.0 L447.6 266.9 L449.4 267.8 L451.2 268.7 L453.0 269.6 L454.9 270.4 L456.8 271.3 L458.6 272.1 L460.5 273.0 L462.4 273.8 L464.3 274.6 L466.2 275.5 L468.1 276.3 L470.0 277.1 L471.9 277.9 L473.8 278.6 L475.8 279.4 L477.7 280.2 L479.6 280.9 L481.6 281.7 L483.6 282.4 L485.5 283.2 L487.5 283.9 L489.5 284.6 L491.4 285.3 L493.4 286.0 L495.4 286.7 L497.4 287.4 L499.4 288.1 L501.4 288.7 L503.5 289.4 L505.5 290.1 L507.5 290.7 L509.5 291.4 L511.6 292.0 L513.6 292.6 L515.6 293.2 L517.7 293.9 L519.7 294.5 L521.8 295.1 L523.8 295.7 L525.9 296.3 L528.0 296.8 L530.0 297.4 L532.1 298.0 L534.2 298.6 L536.3 299.1 L538.3 299.7 L540.4 300.2 L542.5 300.8 L544.6 301.3 L546.7 301.8 L548.8 302.3 L550.9 302.9 L553.0 303.4 L555.1 303.9 L557.2 304.4 L559.3 304.9 L561.4 305.4 L563.5 305.9 L565.7 306.4 L567.8 306.8 L569.9 307.3 L572.0 307.8 L574.1 308.2 L576.3 308.7 L578.4 309.2 L580.5 309.6 L582.7 310.1 L584.8 310.5 L586.9 310.9 L589.1 311.4 L591.2 311.8 L593.4 312.2 L595.5 312.6 L597.7 313.0 L599.8 313.5 L602.0 313.9 L604.1 314.3 L606.3 314.7 L608.4 315.1 L610.6 315.5 L612.7 315.9 L614.9 316.2 L617.0 316.6 L619.2 317.0 L621.4 317.4 L623.5 317.7 L625.7 318.1 L627.8 318.5 L630.0 318.8 L632.2 319.2 L634.3 319.5 L636.5 319.9 L638.7 320.2 L640.9 320.6 L643.0 320.9 L645.2 321.3 L647.4 321.6 L649.6 321.9 L651.7 322.3 L653.9 322.6 L656.1 322.9 L658.3 323.2 L660.4 323.6 L662.6 323.9 L664.8 324.2 L667.0 324.5 L669.2 324.8 L670.5 325.0"/>
<path d="M424.1 48.6 L422.8 48.7 L421.4 48.9 L420.2 49.0 L418.7 49.2 L417.5 49.4 L416.1 49.6 L414.6 49.8 L412.9 50.1 L411.0 50.4 L408.9 50.8 L406.7 51.2 L404.6 51.6 L402.5 52.0 L400.3 52.5 L398.2 52.9 L396.1 53.4 L394.0 53.9 L391.9 54.5 L389.8 55.0 L387.7 55.6 L385.7 56.2 L383.6 56.8 L381.6 57.4 L379.6 58.1 L377.6 58.8 L375.6 59.5 L373.6 60.2 L371.7 60.9 L369.7 61.7 L367.8 62.5 L365.9 63.3 L364.1 64.2 L362.2 65.1 L360.4 66.0 L358.6 66.9 L356.9 67.9 L355.2 68.9 L353.5 69.9 L351.8 70.9 L350.2 72.0 L348.6 73.1 L347.0 74.2 L345.5 75.3 L344.0 76.5 L342.5 77.6 L341.1 78.8 L339.7 80.1 L338.4 81.3 L337.1 82.6 L335.8 83.9 L334.6 85.2 L333.4 86.5 L332.3 87.8 L331.2 89.2 L330.1 90.5 L329.0 91.9 L328.1 93.3 L327.1 94.7 L326.2 96.1 L325.3 97.6 L324.4 99.0 L323.6 100.5 L322.8 101.9 L322.1 103.4 L321.4 104.9 L320.7 106.4 L320.0 107.8 L319.4 109.3 L318.8 110.9 L318.3 112.4 L317.7 113.9 L317.2 115.4 L316.8 116.9 L316.3 118.4 L315.9 120.0 L315.5 121.5 L315.1 123.1 L314.8 124.6 L314.5 126.1 L314.2 127.7 L313.9 129.2 L313.6 130.8 L313.4 132.3 L313.2 133.9 L313.0 135.4 L312.9 137.0 L312.7 138.6 L312.6 140.1 L312.5 141.7 L312.4 143.2 L312.4 144.8 L312.3 146.3 L312.3 147.9 L312.3 149.5 L312.3 151.0 L312.4 152.6 L312.4 154.1 L312.5 155.7 L312.6 157.3 L312.7 158.8 L312.8 160.4 L313.0 161.9 L313.1 163.5 L313.3 165.0 L313.5 166.6 L313.7 168.2 L314.0 169.7 L314.2 171.3 L314.5 172.8 L314.8 174.4 L315.1 175.9 L315.4 177.4 L315.7 179.0 L316.0 180.5 L316.4 182.1 L316.8 183.6 L317.2 185.1 L317.6 186.7 L318.0 188.2 L318.5 189.7 L318.9 191.3 L319.4 192.8 L319.9 194.3 L320.4 195.8 L320.9 197.3 L321.5 198.9 L322.0 200.4 L322.6 201.9 L323.2 203.4 L323.8 204.9 L324.4 206.4 L325.1 207.9 L325.7 209.4 L326.4 210.8 L327.1 212.3 L327.8 213.8 L328.5 215.3 L329.3 216.7 L330.0 218.2 L330.8 219.7 L331.6 221.1 L332.4 222.6 L333.2 224.0 L334.1 225.5 L334.9 226.9 L335.8 228.4 L336.7 229.8 L337.6 231.2 L338.6 232.6 L339.5 234.0 L340.5 235.4 L341.5 236.8 L342.5 238.2 L343.5 239.6 L344.5 241.0 L345.6 242.4 L346.6 243.7 L347.7 245.1 L348.8 246.5 L349.9 247.8 L351.1 249.1 L352.2 250.5 L353.4 251.8 L354.6 253.1 L355.8 254.4 L357.0 255.7 L358.3 257.0 L359.5 258.3 L360.8 259.6 L362.1 260.9 L363.4 262.1 L364.8 263.4 L366.1 264.6 L367.5 265.8 L368.8 267.1 L370.2 268.3 L371.7 269.5 L373.1 270.7 L374.5 271.9 L376.0 273.1 L377.5 274.2 L379.0 275.4 L380.5 276.5 L382.0 277.7 L383.5 278.8 L385.1 279.9 L386.7 281.0 L388.2 282.1 L389.8 283.2 L391.5 284.3 L393.1 285.3 L394.7 286.4 L396.4 287.4 L398.0 288.5 L399.7 289.5 L401.4 290.5 L403.1 291.5 L404.8 292.5 L406.6 293.5 L408.3 294.5 L410.1 295.4 L411.8 296.4 L413.6 297.3 L415.4 298.2 L417.2 299.2 L419.0 300.1 L420.8 301.0 L422.6 301.9 L424.5 302.7 L426.3 303.6 L428.2 304.5 L430.1 305.3 L431.9 306.2 L433.8 307.0 L435.7 307.8 L437.6 308.6 L439.5 309.4 L441.4 310.2 L443.4 311.0 L445.3 311.8 L447.2 312.5 L449.2 313.3 L451.1 314.0 L453.1 314.8 L455.1 315.5 L457.1 316.2 L459.0 316.9 L461.0 317.6 L463.0 318.3 L465.0 319.0 L467.0 319.7 L469.0 320.3 L471.1 321.0 L473.1 321.6 L475.1 322.3 L477.1 322.9 L479.2 323.6 L481.2 324.2 L483.3 324.8 L485.3 325.4 L487.4 326.0 L489.4 326.6 L491.5 327.2 L493.6 327.7 L495.6 328.3 L497.7 328.9 L499.8 329.4 L501.9 330.0 L504.0 330.5 L506.0 331.1 L508.1 331.6 L510.2 332.1 L512.3 332.6 L514.4 333.2 L516.5 333.7 L518.7 334.2 L520.8 334.7 L522.9 335.2 L525.0 335.6 L527.1 336.1 L529.2 336.6 L531.4 337.1 L533.5 337.5 L535.6 338.0 L537.7 338.4 L539.9 338.9 L542.0 339.3 L544.1 339.8 L546.3 340.2 L548.4 340.6 L550.6 341.0 L552.7 341.5 L554.9 341.9 L557.0 342.3 L559.2 342.7 L561.3 343.1 L563.5 343.5 L565.6 343.9 L567.8 344.3 L569.9 344.6 L572.1 345.0 L574.3 345.4 L576.4 345.8 L578.6 346.1 L580.8 346.5 L582.9 346.9 L585.1 347.2 L587.3 347.6 L589.4 347.9 L591.6 348.3 L593.8 348.6 L595.9 348.9 L598.1 349.3 L600.3 349.6 L602.5 349.9 L604.6 350.2 L606.8 350.6 L609.0 350.9 L611.2 351.2 L613.4 351.5 L615.5 351.8 L617.7 352.1 L619.9 352.4 L622.1 352.7 L624.3 353.0 L626.5 353.3 L628.7 353.6 L630.8 353.9 L633.0 354.2 L635.2 354.5 L637.4 354.7 L639.6 355.0 L641.8 355.3 L644.0 355.6 L646.2 355.8 L648.4 356.1 L650.6 356.4 L652.8 356.6 L655.0 356.9 L657.2 357.1 L659.4 357.4 L661.5 357.7 L663.7 357.9 L665.9 358.2 L668.1 358.4 L670.3 358.6 L670.5 358.7"/>
<path d="M424.1 48.6 L422.8 48.7 L421.4 48.8 L420.1 49.0 L418.4 49.2 L417.0 49.3 L415.5 49.5 L413.7 49.7 L411.7 50.0 L409.6 50.3 L407.4 50.6 L405.2 50.9 L403.0 51.3 L400.9 51.6 L398.7 52.0 L396.5 52.4 L394.4 52.8 L392.2 53.2 L390.1 53.6 L388.0 54.1 L385.8 54.5 L383.7 55.0 L381.6 55.5 L379.5 56.0 L377.4 56.5 L375.3 57.1 L373.2 57.6 L371.2 58.2 L369.1 58.8 L367.1 59.4 L365.0 60.0 L363.0 60.7 L361.0 61.4 L359.0 62.1 L357.1 62.8 L355.1 63.6 L353.2 64.3 L351.2 65.1 L349.3 65.9 L347.5 66.8 L345.6 67.6 L343.8 68.5 L342.0 69.4 L340.2 70.4 L338.4 71.3 L336.7 72.3 L335.0 73.3 L333.3 74.3 L331.7 75.4 L330.1 76.5 L328.5 77.6 L326.9 78.7 L325.4 79.8 L323.9 81.0 L322.5 82.2 L321.1 83.4 L319.7 84.6 L318.4 85.8 L317.0 87.1 L315.8 88.4 L314.5 89.7 L313.3 91.0 L312.2 92.3 L311.0 93.7 L309.9 95.0 L308.9 96.4 L307.8 97.8 L306.8 99.2 L305.9 100.6 L304.9 102.0 L304.0 103.4 L303.2 104.9 L302.3 106.3 L301.5 107.8 L300.7 109.2 L300.0 110.7 L299.2 112.2 L298.6 113.6 L297.9 115.1 L297.2 116.6 L296.6 118.1 L296.0 119.6 L295.5 121.1 L294.9 122.6 L294.4 124.2 L293.9 125.7 L293.4 127.2 L293.0 128.7 L292.6 130.3 L292.2 131.8 L291.8 133.3 L291.4 134.9 L291.1 136.4 L290.7 138.0 L290.4 139.5 L290.2 141.1 L289.9 142.6 L289.6 144.2 L289.4 145.7 L289.2 147.3 L289.0 148.8 L288.8 150.4 L288.7 151.9 L288.5 153.5 L288.4 155.0 L288.3 156.6 L288.2 158.2 L288.1 159.7 L288.1 161.3 L288.0 162.8 L288.0 164.4 L288.0 166.0 L288.0 167.5 L288.0 169.1 L288.0 170.6 L288.1 172.2 L288.1 173.7 L288.2 175.3 L288.3 176.9 L288.4 178.4 L288.5 180.0 L288.7 181.5 L288.8 183.1 L289.0 184.7 L289.1 186.2 L289.3 187.8 L289.5 189.3 L289.7 190.9 L290.0 192.4 L290.2 194.0 L290.5 195.5 L290.7 197.1 L291.0 198.6 L291.3 200.2 L291.6 201.7 L292.0 203.2 L292.3 204.8 L292.7 206.3 L293.0 207.9 L293.4 209.4 L293.8 210.9 L294.2 212.5 L294.7 214.0 L295.1 215.5 L295.6 217.1 L296.0 218.6 L296.5 220.1 L297.0 221.6 L297.5 223.1 L298.0 224.7 L298.6 226.2 L299.1 227.7 L299.7 229.2 L300.3 230.7 L300.9 232.2 L301.5 233.7 L302.2 235.2 L302.8 236.7 L303.5 238.2 L304.2 239.7 L304.9 241.1 L305.6 242.6 L306.3 244.1 L307.1 245.6 L307.8 247.0 L308.6 248.5 L309.4 249.9 L310.2 251.4 L311.0 252.8 L311.9 254.3 L312.8 255.7 L313.6 257.2 L314.5 258.6 L315.5 260.0 L316.4 261.4 L317.3 262.8 L318.3 264.2 L319.3 265.6 L320.3 267.0 L321.3 268.4 L322.4 269.8 L323.4 271.2 L324.5 272.5 L325.6 273.9 L326.7 275.2 L327.8 276.6 L329.0 277.9 L330.2 279.2 L331.3 280.6 L332.6 281.9 L333.8 283.2 L335.0 284.5 L336.3 285.8 L337.6 287.0 L338.9 288.3 L340.2 289.6 L341.5 290.8 L342.9 292.0 L344.2 293.3 L345.6 294.5 L347.0 295.7 L348.4 296.9 L349.9 298.1 L351.3 299.3 L352.8 300.4 L354.3 301.6 L355.8 302.7 L357.3 303.9 L358.9 305.0 L360.4 306.1 L362.0 307.2 L363.6 308.3 L365.2 309.4 L366.8 310.5 L368.5 311.5 L370.1 312.6 L371.8 313.6 L373.5 314.6 L375.2 315.6 L376.9 316.6 L378.6 317.6 L380.3 318.6 L382.1 319.6 L383.8 320.5 L385.6 321.5 L387.4 322.4 L389.2 323.3 L391.0 324.2 L392.8 325.1 L394.7 326.0 L396.5 326.9 L398.4 327.7 L400.2 328.6 L402.1 329.4 L404.0 330.3 L405.9 331.1 L407.8 331.9 L409.7 332.7 L411.6 333.5 L413.6 334.2 L415.5 335.0 L417.4 335.8 L419.4 336.5 L421.4 337.3 L423.3 338.0 L425.3 338.7 L427.3 339.4 L429.3 340.1 L431.3 340.8 L433.3 341.5 L435.3 342.1 L437.3 342.8 L439.3 343.4 L441.4 344.1 L443.4 344.7 L445.5 345.3 L447.5 346.0 L449.5 346.6 L451.6 347.2 L453.7 347.8 L455.7 348.3 L457.8 348.9 L459.9 349.5 L461.9 350.0 L464.0 350.6 L466.1 351.1 L468.2 351.7 L470.3 352.2 L472.4 352.7 L474.5 353.2 L476.6 353.8 L478.7 354.3 L480.8 354.8 L482.9 355.2 L485.0 355.7 L487.2 356.2 L489.3 356.7 L491.4 357.1 L493.5 357.6 L495.7 358.1 L497.8 358.5 L499.9 358.9 L502.1 359.4 L504.2 359.8 L506.4 360.2 L508.5 360.7 L510.7 361.1 L512.8 361.5 L515.0 361.9 L517.1 362.3 L519.3 362.7 L521.4 363.1 L523.6 363.4 L525.7 363.8 L527.9 364.2 L530.1 364.6 L532.2 364.9 L534.4 365.3 L536.5 365.7 L538.7 366.0 L540.9 366.4 L543.1 366.7 L545.2 367.0 L547.4 367.4 L549.6 367.7 L551.8 368.0 L553.9 368.4 L556.1 368.7 L558.3 369.0 L560.5 369.3 L562.7 369.6 L564.8 369.9 L567.0 370.2 L569.2 370.6 L571.4 370.8 L573.6 371.1 L575.8 371.4 L577.9 371.7 L580.1 372.0 L582.3 372.3 L584.5 372.6 L586.7 372.8 L588.9 373.1 L591.1 373.4 L593.3 373.6 L595.5 373.9 L597.7 374.2 L599.9 374.4 L602.1 374.7 L604.3 374.9 L606.5 375.2 L608.7 375.4 L610.9 375.7 L613.1 375.9 L615.3 376.2 L617.5 376.4 L619.7 376.6 L621.9 376.9 L624.1 377.1 L626.3 377.3 L628.5 377.6 L630.7 377.8 L632.9 378.0 L635.1 378.2 L637.3 378.4 L639.5 378.6 L641.7 378.9 L643.9 379.1 L646.1 379.3 L648.3 379.5 L650.5 379.7 L652.7 379.9 L654.9 380.1 L657.1 380.3 L659.4 380.5 L661.6 380.7 L663.8 380.9 L666.0 381.1 L668.2 381.3 L670.4 381.4 L670.5 381.5"/>
<path d="M424.1 48.6 L422.9 48.7 L421.4 48.8 L420.0 48.9 L418.8 49.0 L417.4 49.2 L415.7 49.3 L413.8 49.5 L411.6 49.7 L409.4 50.0 L407.2 50.2 L405.0 50.5 L402.9 50.7 L400.7 51.0 L398.5 51.3 L396.3 51.6 L394.1 51.9 L391.9 52.2 L389.7 52.5 L387.6 52.9 L385.4 53.2 L383.2 53.6 L381.1 53.9 L378.9 54.3 L376.8 54.7 L374.6 55.1 L372.5 55.5 L370.3 56.0 L368.2 56.4 L366.1 56.9 L363.9 57.4 L361.8 57.8 L359.7 58.3 L357.6 58.9 L355.5 59.4 L353.5 60.0 L351.4 60.5 L349.3 61.1 L347.3 61.7 L345.2 62.4 L343.2 63.0 L341.2 63.7 L339.2 64.4 L337.2 65.1 L335.3 65.8 L333.3 66.6 L331.4 67.4 L329.5 68.2 L327.6 69.0 L325.7 69.8 L323.9 70.7 L322.0 71.6 L320.2 72.5 L318.4 73.4 L316.7 74.4 L314.9 75.4 L313.2 76.4 L311.6 77.4 L309.9 78.4 L308.3 79.5 L306.7 80.6 L305.2 81.7 L303.6 82.9 L302.1 84.0 L300.7 85.2 L299.2 86.4 L297.8 87.6 L296.5 88.8 L295.1 90.1 L293.8 91.3 L292.6 92.6 L291.3 93.9 L290.1 95.2 L289.0 96.6 L287.8 97.9 L286.7 99.3 L285.7 100.6 L284.6 102.0 L283.6 103.4 L282.6 104.8 L281.7 106.2 L280.8 107.6 L279.9 109.1 L279.0 110.5 L278.2 111.9 L277.3 113.4 L276.6 114.9 L275.8 116.3 L275.1 117.8 L274.4 119.3 L273.7 120.8 L273.0 122.2 L272.4 123.7 L271.8 125.2 L271.2 126.7 L270.6 128.2 L270.0 129.8 L269.5 131.3 L269.0 132.8 L268.5 134.3 L268.0 135.8 L267.6 137.4 L267.1 138.9 L266.7 140.4 L266.3 142.0 L265.9 143.5 L265.6 145.0 L265.2 146.6 L264.9 148.1 L264.6 149.7 L264.3 151.2 L264.0 152.8 L263.7 154.3 L263.5 155.9 L263.2 157.4 L263.0 159.0 L262.8 160.5 L262.6 162.1 L262.4 163.6 L262.3 165.2 L262.1 166.7 L262.0 168.3 L261.8 169.8 L261.7 171.4 L261.6 173.0 L261.5 174.5 L261.4 176.1 L261.4 177.6 L261.3 179.2 L261.3 180.8 L261.3 182.3 L261.2 183.9 L261.2 185.4 L261.2 187.0 L261.3 188.6 L261.3 190.1 L261.3 191.7 L261.4 193.2 L261.5 194.8 L261.5 196.4 L261.6 197.9 L261.7 199.5 L261.8 201.0 L262.0 202.6 L262.1 204.1 L262.3 205.7 L262.4 207.3 L262.6 208.8 L262.8 210.4 L263.0 211.9 L263.2 213.5 L263.4 215.0 L263.6 216.6 L263.9 218.1 L264.1 219.7 L264.4 221.2 L264.6 222.8 L264.9 224.3 L265.2 225.9 L265.5 227.4 L265.9 229.0 L266.2 230.5 L266.6 232.0 L266.9 233.6 L267.3 235.1 L267.7 236.7 L268.1 238.2 L268.5 239.7 L268.9 241.3 L269.3 242.8 L269.8 244.3 L270.3 245.8 L270.7 247.4 L271.2 248.9 L271.7 250.4 L272.3 251.9 L272.8 253.4 L273.3 254.9 L273.9 256.5 L274.5 258.0 L275.1 259.5 L275.7 261.0 L276.3 262.5 L276.9 264.0 L277.6 265.5 L278.3 266.9 L278.9 268.4 L279.6 269.9 L280.4 271.4 L281.1 272.9 L281.8 274.3 L282.6 275.8 L283.4 277.3 L284.2 278.7 L285.0 280.2 L285.8 281.6 L286.7 283.0 L287.5 284.5 L288.4 285.9 L289.3 287.3 L290.3 288.8 L291.2 290.2 L292.2 291.6 L293.1 293.0 L294.1 294.4 L295.2 295.8 L296.2 297.1 L297.3 298.5 L298.3 299.9 L299.4 301.2 L300.5 302.6 L301.7 303.9 L302.8 305.3 L304.0 306.6 L305.2 307.9 L306.4 309.2 L307.7 310.5 L308.9 311.8 L310.2 313.1 L311.5 314.3 L312.8 315.6 L314.1 316.9 L315.5 318.1 L316.9 319.3 L318.3 320.5 L319.7 321.7 L321.1 322.9 L322.6 324.1 L324.0 325.3 L325.5 326.4 L327.0 327.6 L328.6 328.7 L330.1 329.8 L331.7 330.9 L333.3 332.0 L334.9 333.1 L336.5 334.2 L338.1 335.2 L339.8 336.3 L341.5 337.3 L343.2 338.3 L344.9 339.3 L346.6 340.3 L348.3 341.3 L350.1 342.3 L351.8 343.2 L353.6 344.2 L355.4 345.1 L357.2 346.0 L359.0 346.9 L360.9 347.8 L362.7 348.6 L364.6 349.5 L366.4 350.4 L368.3 351.2 L370.2 352.0 L372.1 352.8 L374.0 353.6 L376.0 354.4 L377.9 355.2 L379.8 355.9 L381.8 356.7 L383.7 357.4 L385.7 358.1 L387.7 358.9 L389.7 359.6 L391.7 360.3 L393.7 360.9 L395.7 361.6 L397.7 362.3 L399.7 362.9 L401.8 363.6 L403.8 364.2 L405.8 364.8 L407.9 365.4 L409.9 366.0 L412.0 366.6 L414.1 367.2 L416.1 367.8 L418.2 368.3 L420.3 368.9 L422.4 369.4 L424.5 370.0 L426.6 370.5 L428.7 371.0 L430.8 371.5 L432.9 372.0 L435.0 372.5 L437.1 373.0 L439.2 373.5 L441.3 374.0 L443.5 374.4 L445.6 374.9 L447.7 375.3 L449.9 375.8 L452.0 376.2 L454.1 376.7 L456.3 377.1 L458.4 377.5 L460.6 377.9 L462.7 378.3 L464.9 378.7 L467.0 379.1 L469.2 379.5 L471.3 379.9 L473.5 380.3 L475.6 380.7 L477.8 381.0 L480.0 381.4 L482.1 381.8 L484.3 382.1 L486.5 382.5 L488.7 382.8 L490.8 383.1 L493.0 383.5 L495.2 383.8 L497.4 384.1 L499.5 384.5 L501.7 384.8 L503.9 385.1 L506.1 385.4 L508.3 385.7 L510.4 386.0 L512.6 386.3 L514.8 386.6 L517.0 386.9 L519.2 387.2 L521.4 387.4 L523.6 387.7 L525.8 388.0 L528.0 388.3 L530.1 388.5 L532.3 388.8 L534.5 389.0 L536.7 389.3 L538.9 389.6 L541.1 389.8 L543.3 390.1 L545.5 390.3 L547.7 390.5 L549.9 390.8 L552.1 391.0 L554.3 391.3 L556.5 391.5 L558.7 391.7 L560.9 391.9 L563.1 392.2 L565.3 392.4 L567.5 392.6 L569.8 392.8 L572.0 393.0 L574.2 393.2 L576.4 393.4 L578.6 393.6 L580.8 393.8 L583.0 394.0 L585.2 394.2 L587.4 394.4 L589.6 394.6 L591.8 394.8 L594.0 395.0 L596.2 395.2 L598.5 395.4 L600.7 395.6 L602.9 395.8 L605.1 395.9 L607.3 396.1 L609.5 396.3 L611.7 396.5 L613.9 396.6 L616.2 396.8 L618.4 397.0 L620.6 397.1 L622.8 397.3 L625.0 397.5 L627.2 397.6 L629.4 397.8 L631.6 397.9 L633.9 398.1 L636.1 398.3 L638.3 398.4 L640.5 398.6 L642.7 398.7 L644.9 398.9 L647.2 399.0 L649.4 399.2 L651.6 399.3 L653.8 399.4 L656.0 399.6 L658.2 399.7 L660.5 399.9 L662.7 400.0 L664.9 400.1 L667.1 400.3 L669.3 400.4 L670.5 400.5"/>
<path d="M424.1 48.6 L422.9 48.7 L421.7 48.7 L420.2 48.8 L418.8 48.9 L417.2 49.0 L415.3 49.2 L413.1 49.3 L410.9 49.5 L408.7 49.6 L406.4 49.8 L404.2 50.0 L402.0 50.2 L399.8 50.4 L397.6 50.6 L395.4 50.8 L393.2 51.0 L391.0 51.2 L388.8 51.4 L386.6 51.7 L384.4 51.9 L382.2 52.1 L380.0 52.4 L377.8 52.6 L375.6 52.9 L373.4 53.2 L371.2 53.5 L369.0 53.8 L366.8 54.1 L364.7 54.4 L362.5 54.7 L360.3 55.0 L358.1 55.4 L356.0 55.7 L353.8 56.1 L351.6 56.4 L349.5 56.8 L347.3 57.2 L345.2 57.6 L343.0 58.0 L340.9 58.5 L338.8 58.9 L336.6 59.4 L334.5 59.9 L332.4 60.4 L330.3 60.9 L328.2 61.4 L326.1 61.9 L324.0 62.5 L322.0 63.1 L319.9 63.7 L317.9 64.3 L315.8 64.9 L313.8 65.6 L311.8 66.2 L309.8 66.9 L307.8 67.6 L305.8 68.4 L303.9 69.1 L302.0 69.9 L300.1 70.7 L298.2 71.5 L296.3 72.4 L294.4 73.2 L292.6 74.1 L290.8 75.0 L289.0 76.0 L287.3 76.9 L285.6 77.9 L283.9 78.9 L282.2 80.0 L280.6 81.0 L278.9 82.1 L277.4 83.2 L275.8 84.3 L274.3 85.5 L272.8 86.6 L271.4 87.8 L269.9 89.0 L268.5 90.2 L267.2 91.5 L265.9 92.7 L264.6 94.0 L263.3 95.3 L262.1 96.6 L260.9 97.9 L259.7 99.2 L258.6 100.5 L257.5 101.9 L256.4 103.3 L255.4 104.6 L254.3 106.0 L253.4 107.4 L252.4 108.8 L251.5 110.3 L250.6 111.7 L249.7 113.1 L248.8 114.6 L248.0 116.0 L247.2 117.5 L246.4 118.9 L245.7 120.4 L244.9 121.9 L244.2 123.3 L243.5 124.8 L242.9 126.3 L242.2 127.8 L241.6 129.3 L241.0 130.8 L240.4 132.3 L239.8 133.8 L239.3 135.3 L238.8 136.8 L238.2 138.4 L237.7 139.9 L237.3 141.4 L236.8 142.9 L236.3 144.5 L235.9 146.0 L235.5 147.5 L235.1 149.1 L234.7 150.6 L234.3 152.1 L233.9 153.7 L233.6 155.2 L233.3 156.7 L232.9 158.3 L232.6 159.8 L232.3 161.4 L232.0 162.9 L231.8 164.5 L231.5 166.0 L231.3 167.6 L231.0 169.1 L230.8 170.7 L230.6 172.2 L230.4 173.8 L230.2 175.3 L230.0 176.9 L229.8 178.4 L229.6 180.0 L229.5 181.6 L229.3 183.1 L229.2 184.7 L229.1 186.2 L229.0 187.8 L228.9 189.3 L228.8 190.9 L228.7 192.5 L228.6 194.0 L228.5 195.6 L228.5 197.1 L228.4 198.7 L228.4 200.3 L228.4 201.8 L228.3 203.4 L228.3 204.9 L228.3 206.5 L228.3 208.1 L228.3 209.6 L228.4 211.2 L228.4 212.7 L228.4 214.3 L228.5 215.9 L228.6 217.4 L228.6 219.0 L228.7 220.5 L228.8 222.1 L228.9 223.7 L229.0 225.2 L229.1 226.8 L229.2 228.3 L229.3 229.9 L229.5 231.4 L229.6 233.0 L229.8 234.6 L230.0 236.1 L230.1 237.7 L230.3 239.2 L230.5 240.8 L230.7 242.3 L230.9 243.9 L231.2 245.4 L231.4 247.0 L231.6 248.5 L231.9 250.1 L232.1 251.6 L232.4 253.2 L232.7 254.7 L233.0 256.3 L233.3 257.8 L233.6 259.4 L233.9 260.9 L234.3 262.5 L234.6 264.0 L235.0 265.5 L235.4 267.1 L235.7 268.6 L236.1 270.1 L236.5 271.7 L237.0 273.2 L237.4 274.7 L237.8 276.3 L238.3 277.8 L238.8 279.3 L239.2 280.8 L239.7 282.4 L240.2 283.9 L240.8 285.4 L241.3 286.9 L241.8 288.4 L242.4 289.9 L243.0 291.4 L243.6 292.9 L244.2 294.4 L244.8 295.9 L245.5 297.4 L246.1 298.9 L246.8 300.4 L247.5 301.9 L248.2 303.4 L248.9 304.9 L249.6 306.3 L250.4 307.8 L251.2 309.3 L252.0 310.7 L252.8 312.2 L253.6 313.6 L254.5 315.0 L255.4 316.5 L256.2 317.9 L257.2 319.3 L258.1 320.8 L259.0 322.2 L260.0 323.6 L261.0 325.0 L262.0 326.3 L263.1 327.7 L264.1 329.1 L265.2 330.5 L266.3 331.8 L267.5 333.2 L268.6 334.5 L269.8 335.8 L271.0 337.1 L272.2 338.4 L273.5 339.7 L274.7 341.0 L276.0 342.3 L277.4 343.5 L278.7 344.8 L280.1 346.0 L281.5 347.2 L282.9 348.4 L284.3 349.6 L285.8 350.8 L287.2 352.0 L288.7 353.1 L290.3 354.2 L291.8 355.4 L293.4 356.5 L295.0 357.6 L296.6 358.6 L298.2 359.7 L299.9 360.7 L301.6 361.8 L303.3 362.8 L305.0 363.8 L306.7 364.8 L308.5 365.7 L310.2 366.7 L312.0 367.6 L313.8 368.5 L315.6 369.4 L317.5 370.3 L319.3 371.2 L321.2 372.0 L323.1 372.8 L325.0 373.7 L326.9 374.5 L328.8 375.3 L330.7 376.0 L332.7 376.8 L334.6 377.5 L336.6 378.3 L338.6 379.0 L340.5 379.7 L342.5 380.4 L344.5 381.1 L346.6 381.7 L348.6 382.4 L350.6 383.0 L352.7 383.6 L354.7 384.3 L356.8 384.9 L358.8 385.4 L360.9 386.0 L363.0 386.6 L365.0 387.1 L367.1 387.7 L369.2 388.2 L371.3 388.7 L373.4 389.3 L375.5 389.8 L377.6 390.3 L379.8 390.7 L381.9 391.2 L384.0 391.7 L386.1 392.1 L388.3 392.6 L390.4 393.0 L392.5 393.5 L394.7 393.9 L396.8 394.3 L399.0 394.7 L401.1 395.1 L403.3 395.5 L405.4 395.9 L407.6 396.3 L409.8 396.7 L411.9 397.0 L414.1 397.4 L416.3 397.7 L418.4 398.1 L420.6 398.4 L422.8 398.8 L424.9 399.1 L427.1 399.4 L429.3 399.7 L431.5 400.0 L433.7 400.3 L435.8 400.7 L438.0 400.9 L440.2 401.2 L442.4 401.5 L444.6 401.8 L446.8 402.1 L449.0 402.4 L451.2 402.6 L453.4 402.9 L455.6 403.2 L457.8 403.4 L460.0 403.7 L462.1 403.9 L464.3 404.2 L466.5 404.4 L468.7 404.6 L470.9 404.9 L473.2 405.1 L475.4 405.3 L477.6 405.6 L479.8 405.8 L482.0 406.0 L484.2 406.2 L486.4 406.4 L488.6 406.6 L490.8 406.8 L493.0 407.0 L495.2 407.2 L497.4 407.4 L499.6 407.6 L501.8 407.8 L504.0 408.0 L506.3 408.2 L508.5 408.4 L510.7 408.6 L512.9 408.7 L515.1 408.9 L517.3 409.1 L519.5 409.2 L521.7 409.4 L523.9 409.6 L526.2 409.7 L528.4 409.9 L530.6 410.1 L532.8 410.2 L535.0 410.4 L537.2 410.5 L539.5 410.7 L541.7 410.8 L543.9 411.0 L546.1 411.1 L548.3 411.3 L550.5 411.4 L552.8 411.6 L555.0 411.7 L557.2 411.8 L559.4 412.0 L561.6 412.1 L563.8 412.2 L566.1 412.4 L568.3 412.5 L570.5 412.6 L572.7 412.8 L574.9 412.9 L577.2 413.0 L579.4 413.1 L581.6 413.2 L583.8 413.4 L586.0 413.5 L588.3 413.6 L590.5 413.7 L592.7 413.8 L594.9 413.9 L597.1 414.0 L599.4 414.2 L601.6 414.3 L603.8 414.4 L606.0 414.5 L608.2 414.6 L610.5 414.7 L612.7 414.8 L614.9 414.9 L617.1 415.0 L619.3 415.1 L621.6 415.2 L623.8 415.3 L626.0 415.4 L628.2 415.5 L630.5 415.6 L632.7 415.7 L634.9 415.8 L637.1 415.9 L639.3 415.9 L641.6 416.0 L643.8 416.1 L646.0 416.2 L648.2 416.3 L650.5 416.4 L652.7 416.5 L654.9 416.6 L657.1 416.6 L659.4 416.7 L661.6 416.8 L663.8 416.9 L666.0 417.0 L668.2 417.0 L670.5 417.1 L670.5 417.1"/>
<path d="M424.1 48.6 L422.6 48.7 L420.9 48.7 L419.7 48.8 L418.1 48.8 L416.0 48.9 L413.7 49.0 L411.5 49.1 L409.3 49.2 L407.1 49.3 L404.9 49.5 L402.6 49.6 L400.4 49.7 L398.2 49.8 L396.0 49.9 L393.8 50.1 L391.5 50.2 L389.3 50.3 L387.1 50.5 L384.9 50.6 L382.7 50.7 L380.5 50.9 L378.2 51.0 L376.0 51.2 L373.8 51.4 L371.6 51.5 L369.4 51.7 L367.2 51.9 L365.0 52.1 L362.8 52.3 L360.5 52.5 L358.3 52.7 L356.1 52.9 L353.9 53.1 L351.7 53.3 L349.5 53.5 L347.3 53.7 L345.1 54.0 L342.9 54.2 L340.7 54.5 L338.5 54.7 L336.3 55.0 L334.1 55.3 L332.0 55.6 L329.8 55.9 L327.6 56.2 L325.4 56.5 L323.2 56.8 L321.1 57.1 L318.9 57.5 L316.7 57.8 L314.6 58.2 L312.4 58.6 L310.2 59.0 L308.1 59.4 L305.9 59.8 L303.8 60.3 L301.7 60.7 L299.6 61.2 L297.4 61.7 L295.3 62.2 L293.2 62.7 L291.1 63.2 L289.1 63.8 L287.0 64.3 L284.9 64.9 L282.9 65.6 L280.8 66.2 L278.8 66.8 L276.8 67.5 L274.8 68.2 L272.9 68.9 L270.9 69.7 L269.0 70.5 L267.1 71.3 L265.2 72.1 L263.3 72.9 L261.4 73.8 L259.6 74.7 L257.8 75.6 L256.0 76.5 L254.3 77.5 L252.6 78.5 L250.9 79.5 L249.3 80.6 L247.6 81.6 L246.0 82.7 L244.5 83.9 L243.0 85.0 L241.5 86.2 L240.0 87.3 L238.6 88.5 L237.2 89.8 L235.9 91.0 L234.5 92.3 L233.3 93.5 L232.0 94.8 L230.8 96.1 L229.6 97.4 L228.5 98.8 L227.4 100.1 L226.3 101.5 L225.2 102.9 L224.2 104.3 L223.2 105.7 L222.2 107.1 L221.3 108.5 L220.4 109.9 L219.5 111.3 L218.6 112.8 L217.8 114.2 L217.0 115.7 L216.2 117.1 L215.4 118.6 L214.7 120.1 L214.0 121.5 L213.3 123.0 L212.6 124.5 L212.0 126.0 L211.3 127.5 L210.7 129.0 L210.1 130.5 L209.5 132.0 L209.0 133.5 L208.4 135.0 L207.9 136.5 L207.4 138.1 L206.9 139.6 L206.4 141.1 L205.9 142.6 L205.5 144.1 L205.0 145.7 L204.6 147.2 L204.2 148.7 L203.8 150.3 L203.4 151.8 L203.0 153.3 L202.6 154.9 L202.3 156.4 L201.9 158.0 L201.6 159.5 L201.3 161.1 L200.9 162.6 L200.6 164.1 L200.3 165.7 L200.1 167.2 L199.8 168.8 L199.5 170.3 L199.3 171.9 L199.0 173.4 L198.8 175.0 L198.5 176.5 L198.3 178.1 L198.1 179.6 L197.9 181.2 L197.7 182.7 L197.5 184.3 L197.3 185.9 L197.2 187.4 L197.0 189.0 L196.8 190.5 L196.7 192.1 L196.6 193.6 L196.4 195.2 L196.3 196.8 L196.2 198.3 L196.1 199.9 L195.9 201.4 L195.8 203.0 L195.8 204.5 L195.7 206.1 L195.6 207.7 L195.5 209.2 L195.4 210.8 L195.4 212.3 L195.3 213.9 L195.3 215.5 L195.2 217.0 L195.2 218.6 L195.2 220.1 L195.2 221.7 L195.1 223.3 L195.1 224.8 L195.1 226.4 L195.1 227.9 L195.2 229.5 L195.2 231.1 L195.2 232.6 L195.2 234.2 L195.3 235.7 L195.3 237.3 L195.4 238.9 L195.4 240.4 L195.5 242.0 L195.5 243.5 L195.6 245.1 L195.7 246.7 L195.8 248.2 L195.9 249.8 L196.0 251.3 L196.1 252.9 L196.2 254.4 L196.3 256.0 L196.5 257.6 L196.6 259.1 L196.8 260.7 L196.9 262.2 L197.1 263.8 L197.2 265.3 L197.4 266.9 L197.6 268.4 L197.8 270.0 L198.0 271.6 L198.2 273.1 L198.4 274.7 L198.6 276.2 L198.8 277.8 L199.1 279.3 L199.3 280.9 L199.6 282.4 L199.9 284.0 L200.1 285.5 L200.4 287.1 L200.7 288.6 L201.0 290.2 L201.3 291.7 L201.6 293.2 L202.0 294.8 L202.3 296.3 L202.7 297.9 L203.0 299.4 L203.4 300.9 L203.8 302.5 L204.2 304.0 L204.6 305.5 L205.0 307.1 L205.5 308.6 L205.9 310.1 L206.4 311.7 L206.9 313.2 L207.3 314.7 L207.8 316.2 L208.4 317.7 L208.9 319.3 L209.4 320.8 L210.0 322.3 L210.6 323.8 L211.2 325.3 L211.8 326.8 L212.4 328.3 L213.1 329.8 L213.7 331.3 L214.4 332.8 L215.1 334.2 L215.8 335.7 L216.6 337.2 L217.3 338.7 L218.1 340.1 L218.9 341.6 L219.7 343.0 L220.6 344.5 L221.4 345.9 L222.3 347.3 L223.3 348.7 L224.2 350.2 L225.2 351.6 L226.2 353.0 L227.2 354.3 L228.2 355.7 L229.3 357.1 L230.4 358.4 L231.5 359.8 L232.7 361.1 L233.9 362.4 L235.1 363.8 L236.3 365.0 L237.6 366.3 L238.9 367.6 L240.2 368.8 L241.6 370.1 L243.0 371.3 L244.4 372.5 L245.8 373.7 L247.3 374.9 L248.8 376.0 L250.4 377.1 L251.9 378.2 L253.5 379.3 L255.1 380.4 L256.8 381.5 L258.4 382.5 L260.1 383.5 L261.8 384.5 L263.6 385.5 L265.4 386.4 L267.1 387.4 L268.9 388.3 L270.8 389.2 L272.6 390.0 L274.5 390.9 L276.4 391.7 L278.3 392.5 L280.2 393.3 L282.1 394.1 L284.1 394.8 L286.1 395.5 L288.0 396.3 L290.0 397.0 L292.0 397.6 L294.0 398.3 L296.1 398.9 L298.1 399.6 L300.2 400.2 L302.2 400.8 L304.3 401.4 L306.4 401.9 L308.4 402.5 L310.5 403.0 L312.6 403.5 L314.7 404.1 L316.8 404.6 L319.0 405.0 L321.1 405.5 L323.2 406.0 L325.3 406.4 L327.5 406.9 L329.6 407.3 L331.8 407.7 L333.9 408.1 L336.1 408.5 L338.2 408.9 L340.4 409.3 L342.5 409.7 L344.7 410.0 L346.9 410.4 L349.0 410.7 L351.2 411.0 L353.4 411.4 L355.6 411.7 L357.8 412.0 L359.9 412.3 L362.1 412.6 L364.3 412.9 L366.5 413.2 L368.7 413.5 L370.9 413.8 L373.1 414.0 L375.3 414.3 L377.5 414.5 L379.7 414.8 L381.9 415.0 L384.0 415.3 L386.3 415.5 L388.5 415.8 L390.7 416.0 L392.9 416.2 L395.1 416.4 L397.3 416.6 L399.5 416.9 L401.7 417.1 L403.9 417.3 L406.1 417.5 L408.3 417.7 L410.5 417.8 L412.7 418.0 L414.9 418.2 L417.1 418.4 L419.4 418.6 L421.6 418.7 L423.8 418.9 L426.0 419.1 L428.2 419.3 L430.4 419.4 L432.6 419.6 L434.9 419.7 L437.1 419.9 L439.3 420.0 L441.5 420.2 L443.7 420.3 L445.9 420.5 L448.2 420.6 L450.4 420.8 L452.6 420.9 L454.8 421.0 L457.0 421.2 L459.2 421.3 L461.5 421.4 L463.7 421.5 L465.9 421.7 L468.1 421.8 L470.3 421.9 L472.6 422.0 L474.8 422.1 L477.0 422.3 L479.2 422.4 L481.4 422.5 L483.7 422.6 L485.9 422.7 L488.1 422.8 L490.3 422.9 L492.5 423.0 L494.8 423.1 L497.0 423.2 L499.2 423.3 L501.4 423.4 L503.7 423.5 L505.9 423.6 L508.1 423.7 L510.3 423.8 L512.5 423.9 L514.8 424.0 L517.0 424.0 L519.2 424.1 L521.4 424.2 L523.7 424.3 L525.9 424.4 L528.1 424.5 L530.3 424.5 L532.5 424.6 L534.8 424.7 L537.0 424.8 L539.2 424.9 L541.4 424.9 L543.7 425.0 L545.9 425.1 L548.1 425.2 L550.3 425.2 L552.6 425.3 L554.8 425.4 L557.0 425.4 L559.2 425.5 L561.5 425.6 L563.7 425.6 L565.9 425.7 L568.1 425.8 L570.4 425.8 L572.6 425.9 L574.8 426.0 L577.0 426.0 L579.2 426.1 L581.5 426.2 L583.7 426.2 L585.9 426.3 L588.1 426.3 L590.4 426.4 L592.6 426.5 L594.8 426.5 L597.0 426.6 L599.3 426.6 L601.5 426.7 L603.7 426.7 L605.9 426.8 L608.2 426.8 L610.4 426.9 L612.6 426.9 L614.8 427.0 L617.1 427.0 L619.3 427.1 L621.5 427.1 L623.7 427.2 L626.0 427.2 L628.2 427.3 L630.4 427.3 L632.6 427.4 L634.9 427.4 L637.1 427.5 L639.3 427.5 L641.5 427.6 L643.8 427.6 L646.0 427.7 L648.2 427.7 L650.4 427.7 L652.7 427.8 L654.9 427.8 L657.1 427.9 L659.4 427.9 L661.6 428.0 L663.8 428.0 L666.0 428.0 L668.3 428.1 L670.5 428.1 L670.5 428.1"/>
<path d="M424.1 48.6 L422.6 48.6 L421.1 48.7 L419.6 48.7 L417.6 48.7 L415.4 48.8 L413.2 48.8 L411.0 48.9 L408.7 49.0 L406.5 49.0 L404.3 49.1 L402.1 49.1 L399.8 49.2 L397.6 49.3 L395.4 49.3 L393.2 49.4 L390.9 49.5 L388.7 49.5 L386.5 49.6 L384.3 49.7 L382.1 49.8 L379.8 49.8 L377.6 49.9 L375.4 50.0 L373.2 50.1 L370.9 50.2 L368.7 50.3 L366.5 50.4 L364.3 50.5 L362.1 50.6 L359.8 50.7 L357.6 50.8 L355.4 50.9 L353.2 51.0 L350.9 51.1 L348.7 51.2 L346.5 51.3 L344.3 51.5 L342.1 51.6 L339.8 51.7 L337.6 51.8 L335.4 52.0 L333.2 52.1 L331.0 52.3 L328.8 52.4 L326.6 52.6 L324.3 52.7 L322.1 52.9 L319.9 53.1 L317.7 53.3 L315.5 53.4 L313.3 53.6 L311.1 53.8 L308.9 54.0 L306.7 54.2 L304.5 54.4 L302.2 54.7 L300.0 54.9 L297.8 55.1 L295.6 55.4 L293.5 55.6 L291.3 55.9 L289.1 56.2 L286.9 56.5 L284.7 56.8 L282.5 57.1 L280.3 57.4 L278.2 57.7 L276.0 58.1 L273.8 58.4 L271.7 58.8 L269.5 59.2 L267.4 59.6 L265.2 60.0 L263.1 60.5 L260.9 60.9 L258.8 61.4 L256.7 61.9 L254.6 62.4 L252.5 62.9 L250.4 63.5 L248.4 64.1 L246.3 64.7 L244.3 65.3 L242.3 66.0 L240.3 66.6 L238.3 67.3 L236.3 68.1 L234.4 68.8 L232.4 69.6 L230.5 70.4 L228.7 71.3 L226.8 72.2 L225.0 73.1 L223.2 74.0 L221.5 75.0 L219.8 76.0 L218.1 77.0 L216.5 78.0 L214.8 79.1 L213.3 80.2 L211.8 81.4 L210.3 82.5 L208.8 83.7 L207.4 84.9 L206.0 86.1 L204.7 87.4 L203.4 88.7 L202.2 90.0 L201.0 91.3 L199.8 92.6 L198.6 93.9 L197.5 95.3 L196.5 96.7 L195.4 98.0 L194.4 99.4 L193.5 100.8 L192.5 102.3 L191.6 103.7 L190.8 105.1 L189.9 106.6 L189.1 108.0 L188.3 109.5 L187.5 110.9 L186.8 112.4 L186.1 113.9 L185.4 115.4 L184.7 116.8 L184.0 118.3 L183.4 119.8 L182.8 121.3 L182.2 122.8 L181.6 124.3 L181.0 125.8 L180.5 127.4 L180.0 128.9 L179.5 130.4 L179.0 131.9 L178.5 133.4 L178.0 135.0 L177.6 136.5 L177.1 138.0 L176.7 139.5 L176.3 141.1 L175.9 142.6 L175.5 144.2 L175.1 145.7 L174.7 147.2 L174.4 148.8 L174.0 150.3 L173.7 151.8 L173.3 153.4 L173.0 154.9 L172.7 156.5 L172.4 158.0 L172.1 159.6 L171.8 161.1 L171.6 162.7 L171.3 164.2 L171.0 165.8 L170.8 167.3 L170.5 168.9 L170.3 170.4 L170.1 172.0 L169.8 173.5 L169.6 175.1 L169.4 176.6 L169.2 178.2 L169.0 179.7 L168.8 181.3 L168.6 182.8 L168.4 184.4 L168.3 186.0 L168.1 187.5 L167.9 189.1 L167.8 190.6 L167.6 192.2 L167.5 193.7 L167.3 195.3 L167.2 196.8 L167.1 198.4 L166.9 200.0 L166.8 201.5 L166.7 203.1 L166.6 204.6 L166.5 206.2 L166.4 207.7 L166.3 209.3 L166.2 210.9 L166.1 212.4 L166.0 214.0 L166.0 215.5 L165.9 217.1 L165.8 218.7 L165.7 220.2 L165.7 221.8 L165.6 223.3 L165.6 224.9 L165.5 226.5 L165.5 228.0 L165.5 229.6 L165.4 231.1 L165.4 232.7 L165.4 234.3 L165.3 235.8 L165.3 237.4 L165.3 238.9 L165.3 240.5 L165.3 242.1 L165.3 243.6 L165.3 245.2 L165.3 246.7 L165.3 248.3 L165.4 249.9 L165.4 251.4 L165.4 253.0 L165.4 254.5 L165.5 256.1 L165.5 257.7 L165.6 259.2 L165.6 260.8 L165.7 262.3 L165.7 263.9 L165.8 265.5 L165.8 267.0 L165.9 268.6 L166.0 270.1 L166.1 271.7 L166.2 273.3 L166.3 274.8 L166.4 276.4 L166.5 277.9 L166.6 279.5 L166.7 281.0 L166.8 282.6 L166.9 284.2 L167.1 285.7 L167.2 287.3 L167.3 288.8 L167.5 290.4 L167.6 291.9 L167.8 293.5 L168.0 295.1 L168.1 296.6 L168.3 298.2 L168.5 299.7 L168.7 301.3 L168.9 302.8 L169.1 304.4 L169.3 305.9 L169.5 307.5 L169.8 309.0 L170.0 310.6 L170.2 312.1 L170.5 313.7 L170.7 315.2 L171.0 316.8 L171.3 318.3 L171.6 319.9 L171.9 321.4 L172.2 323.0 L172.5 324.5 L172.8 326.1 L173.2 327.6 L173.5 329.1 L173.9 330.7 L174.2 332.2 L174.6 333.8 L175.0 335.3 L175.4 336.8 L175.8 338.4 L176.3 339.9 L176.7 341.4 L177.2 342.9 L177.7 344.5 L178.2 346.0 L178.7 347.5 L179.2 349.0 L179.7 350.5 L180.3 352.0 L180.9 353.6 L181.5 355.1 L182.1 356.6 L182.7 358.0 L183.4 359.5 L184.1 361.0 L184.8 362.5 L185.5 364.0 L186.3 365.4 L187.1 366.9 L187.9 368.4 L188.7 369.8 L189.6 371.2 L190.5 372.7 L191.4 374.1 L192.3 375.5 L193.3 376.9 L194.4 378.3 L195.4 379.7 L196.5 381.0 L197.6 382.4 L198.8 383.7 L200.0 385.0 L201.2 386.3 L202.5 387.6 L203.8 388.8 L205.2 390.1 L206.6 391.3 L208.0 392.5 L209.5 393.7 L211.0 394.8 L212.5 395.9 L214.1 397.0 L215.7 398.1 L217.4 399.1 L219.0 400.2 L220.8 401.2 L222.5 402.1 L224.3 403.0 L226.1 404.0 L228.0 404.8 L229.8 405.7 L231.7 406.5 L233.6 407.3 L235.6 408.1 L237.5 408.8 L239.5 409.5 L241.5 410.2 L243.5 410.9 L245.5 411.6 L247.6 412.2 L249.6 412.8 L251.7 413.4 L253.8 413.9 L255.8 414.5 L257.9 415.0 L260.0 415.5 L262.2 416.0 L264.3 416.5 L266.4 416.9 L268.5 417.4 L270.7 417.8 L272.8 418.2 L275.0 418.6 L277.1 419.0 L279.3 419.3 L281.5 419.7 L283.6 420.0 L285.8 420.4 L288.0 420.7 L290.2 421.0 L292.4 421.3 L294.5 421.6 L296.7 421.9 L298.9 422.2 L301.1 422.5 L303.3 422.7 L305.5 423.0 L307.7 423.2 L309.9 423.5 L312.1 423.7 L314.3 423.9 L316.5 424.1 L318.7 424.3 L320.9 424.6 L323.1 424.8 L325.3 425.0 L327.6 425.1 L329.8 425.3 L332.0 425.5 L334.2 425.7 L336.4 425.9 L338.6 426.0 L340.8 426.2 L343.0 426.4 L345.3 426.5 L347.5 426.7 L349.7 426.8 L351.9 427.0 L354.1 427.1 L356.3 427.2 L358.6 427.4 L360.8 427.5 L363.0 427.6 L365.2 427.8 L367.4 427.9 L369.6 428.0 L371.9 428.1 L374.1 428.2 L376.3 428.3 L378.5 428.5 L380.8 428.6 L383.0 428.7 L385.2 428.8 L387.4 428.9 L389.6 429.0 L391.9 429.1 L394.1 429.2 L396.3 429.3 L398.5 429.3 L400.7 429.4 L403.0 429.5 L405.2 429.6 L407.4 429.7 L409.6 429.8 L411.9 429.9 L414.1 429.9 L416.3 430.0 L418.5 430.1 L420.8 430.2 L423.0 430.2 L425.2 430.3 L427.4 430.4 L429.7 430.5 L431.9 430.5 L434.1 430.6 L436.3 430.7 L438.5 430.7 L440.8 430.8 L443.0 430.9 L445.2 430.9 L447.4 431.0 L449.7 431.0 L451.9 431.1 L454.1 431.1 L456.3 431.2 L458.6 431.3 L460.8 431.3 L463.0 431.4 L465.2 431.4 L467.5 431.5 L469.7 431.5 L471.9 431.6 L474.1 431.6 L476.4 431.7 L478.6 431.7 L480.8 431.8 L483.0 431.8 L485.3 431.9 L487.5 431.9 L489.7 432.0 L491.9 432.0 L494.2 432.0 L496.4 432.1 L498.6 432.1 L500.8 432.2 L503.1 432.2 L505.3 432.3 L507.5 432.3 L509.7 432.3 L512.0 432.4 L514.2 432.4 L516.4 432.5 L518.7 432.5 L520.9 432.5 L523.1 432.6 L525.3 432.6 L527.6 432.6 L529.8 432.7 L532.0 432.7 L534.2 432.7 L536.5 432.8 L538.7 432.8 L540.9 432.8 L543.1 432.9 L545.4 432.9 L547.6 432.9 L549.8 433.0 L552.0 433.0 L554.3 433.0 L556.5 433.1 L558.7 433.1 L560.9 433.1 L563.2 433.1 L565.4 433.2 L567.6 433.2 L569.8 433.2 L572.1 433.3 L574.3 433.3 L576.5 433.3 L578.7 433.3 L581.0 433.4 L583.2 433.4 L585.4 433.4 L587.7 433.4 L589.9 433.5 L592.1 433.5 L594.3 433.5 L596.6 433.5 L598.8 433.6 L601.0 433.6 L603.2 433.6 L605.5 433.6 L607.7 433.6 L609.9 433.7 L612.1 433.7 L614.4 433.7 L616.6 433.7 L618.8 433.8 L621.0 433.8 L623.3 433.8 L625.5 433.8 L627.7 433.8 L629.9 433.9 L632.2 433.9 L634.4 433.9 L636.6 433.9 L638.8 433.9 L641.1 434.0 L643.3 434.0 L645.5 434.0 L647.8 434.0 L650.0 434.0 L652.2 434.1 L654.4 434.1 L656.7 434.1 L658.9 434.1 L661.1 434.1 L663.3 434.1 L665.6 434.2 L667.8 434.2 L670.0 434.2 L670.5 434.2"/>
<path d="M424.1 48.6 L422.9 48.6 L421.1 48.6 L419.1 48.6 L416.9 48.7 L414.7 48.7 L412.4 48.7 L410.2 48.7 L408.0 48.8 L405.8 48.8 L403.5 48.8 L401.3 48.8 L399.1 48.9 L396.9 48.9 L394.6 48.9 L392.4 49.0 L390.2 49.0 L388.0 49.0 L385.7 49.0 L383.5 49.1 L381.3 49.1 L379.0 49.1 L376.8 49.2 L374.6 49.2 L372.4 49.2 L370.1 49.3 L367.9 49.3 L365.7 49.4 L363.5 49.4 L361.2 49.4 L359.0 49.5 L356.8 49.5 L354.6 49.6 L352.3 49.6 L350.1 49.7 L347.9 49.7 L345.7 49.8 L343.4 49.8 L341.2 49.9 L339.0 49.9 L336.8 50.0 L334.5 50.0 L332.3 50.1 L330.1 50.2 L327.9 50.2 L325.6 50.3 L323.4 50.3 L321.2 50.4 L319.0 50.5 L316.7 50.6 L314.5 50.6 L312.3 50.7 L310.1 50.8 L307.9 50.9 L305.6 51.0 L303.4 51.1 L301.2 51.1 L299.0 51.2 L296.7 51.3 L294.5 51.4 L292.3 51.5 L290.1 51.7 L287.9 51.8 L285.6 51.9 L283.4 52.0 L281.2 52.1 L279.0 52.3 L276.8 52.4 L274.6 52.6 L272.3 52.7 L270.1 52.9 L267.9 53.0 L265.7 53.2 L263.5 53.4 L261.3 53.5 L259.1 53.7 L256.9 53.9 L254.6 54.1 L252.4 54.4 L250.2 54.6 L248.0 54.8 L245.8 55.1 L243.6 55.3 L241.5 55.6 L239.3 55.9 L237.1 56.2 L234.9 56.5 L232.7 56.8 L230.6 57.2 L228.4 57.6 L226.2 57.9 L224.1 58.3 L221.9 58.8 L219.8 59.2 L217.7 59.7 L215.6 60.2 L213.5 60.7 L211.4 61.3 L209.3 61.8 L207.3 62.5 L205.3 63.1 L203.3 63.8 L201.3 64.5 L199.3 65.2 L197.4 66.0 L195.5 66.9 L193.7 67.7 L191.8 68.6 L190.1 69.6 L188.3 70.5 L186.6 71.6 L185.0 72.6 L183.4 73.7 L181.9 74.8 L180.4 76.0 L178.9 77.2 L177.5 78.4 L176.2 79.6 L174.9 80.9 L173.7 82.2 L172.5 83.5 L171.3 84.9 L170.2 86.2 L169.2 87.6 L168.2 89.0 L167.2 90.4 L166.3 91.8 L165.4 93.2 L164.5 94.7 L163.7 96.1 L162.9 97.6 L162.1 99.0 L161.4 100.5 L160.7 102.0 L160.0 103.5 L159.4 105.0 L158.7 106.5 L158.1 108.0 L157.5 109.5 L157.0 111.0 L156.4 112.5 L155.9 114.0 L155.4 115.5 L154.9 117.1 L154.5 118.6 L154.0 120.1 L153.6 121.6 L153.1 123.2 L152.7 124.7 L152.3 126.2 L151.9 127.8 L151.6 129.3 L151.2 130.8 L150.8 132.4 L150.5 133.9 L150.2 135.5 L149.8 137.0 L149.5 138.6 L149.2 140.1 L148.9 141.6 L148.6 143.2 L148.4 144.7 L148.1 146.3 L147.8 147.8 L147.6 149.4 L147.3 150.9 L147.1 152.5 L146.8 154.0 L146.6 155.6 L146.4 157.1 L146.2 158.7 L146.0 160.3 L145.8 161.8 L145.6 163.4 L145.4 164.9 L145.2 166.5 L145.0 168.0 L144.8 169.6 L144.6 171.1 L144.5 172.7 L144.3 174.2 L144.2 175.8 L144.0 177.4 L143.9 178.9 L143.7 180.5 L143.6 182.0 L143.4 183.6 L143.3 185.1 L143.2 186.7 L143.0 188.3 L142.9 189.8 L142.8 191.4 L142.7 192.9 L142.6 194.5 L142.5 196.0 L142.4 197.6 L142.2 199.2 L142.1 200.7 L142.1 202.3 L142.0 203.8 L141.9 205.4 L141.8 207.0 L141.7 208.5 L141.6 210.1 L141.5 211.6 L141.5 213.2 L141.4 214.7 L141.3 216.3 L141.3 217.9 L141.2 219.4 L141.1 221.0 L141.1 222.5 L141.0 224.1 L141.0 225.7 L140.9 227.2 L140.9 228.8 L140.8 230.3 L140.8 231.9 L140.8 233.5 L140.7 235.0 L140.7 236.6 L140.7 238.1 L140.6 239.7 L140.6 241.3 L140.6 242.8 L140.6 244.4 L140.6 245.9 L140.5 247.5 L140.5 249.1 L140.5 250.6 L140.5 252.2 L140.5 253.7 L140.5 255.3 L140.5 256.9 L140.5 258.4 L140.5 260.0 L140.5 261.5 L140.5 263.1 L140.6 264.7 L140.6 266.2 L140.6 267.8 L140.6 269.3 L140.6 270.9 L140.7 272.5 L140.7 274.0 L140.7 275.6 L140.8 277.1 L140.8 278.7 L140.9 280.3 L140.9 281.8 L140.9 283.4 L141.0 284.9 L141.1 286.5 L141.1 288.1 L141.2 289.6 L141.2 291.2 L141.3 292.7 L141.4 294.3 L141.5 295.9 L141.5 297.4 L141.6 299.0 L141.7 300.5 L141.8 302.1 L141.9 303.6 L142.0 305.2 L142.1 306.8 L142.2 308.3 L142.3 309.9 L142.4 311.4 L142.5 313.0 L142.7 314.6 L142.8 316.1 L142.9 317.7 L143.1 319.2 L143.2 320.8 L143.3 322.3 L143.5 323.9 L143.7 325.5 L143.8 327.0 L144.0 328.6 L144.2 330.1 L144.4 331.7 L144.5 333.2 L144.7 334.8 L144.9 336.3 L145.1 337.9 L145.4 339.4 L145.6 341.0 L145.8 342.5 L146.1 344.1 L146.3 345.6 L146.6 347.2 L146.8 348.7 L147.1 350.3 L147.4 351.8 L147.7 353.4 L148.0 354.9 L148.3 356.5 L148.7 358.0 L149.0 359.6 L149.4 361.1 L149.7 362.6 L150.1 364.2 L150.5 365.7 L150.9 367.2 L151.4 368.8 L151.8 370.3 L152.3 371.8 L152.8 373.3 L153.3 374.9 L153.8 376.4 L154.3 377.9 L154.9 379.4 L155.5 380.9 L156.1 382.4 L156.8 383.9 L157.5 385.4 L158.2 386.9 L158.9 388.3 L159.7 389.8 L160.5 391.2 L161.4 392.7 L162.3 394.1 L163.2 395.5 L164.2 396.9 L165.2 398.3 L166.3 399.7 L167.4 401.0 L168.6 402.3 L169.8 403.6 L171.1 404.9 L172.4 406.2 L173.8 407.4 L175.3 408.6 L176.8 409.7 L178.3 410.8 L179.9 411.9 L181.6 413.0 L183.3 414.0 L185.0 414.9 L186.8 415.9 L188.7 416.7 L190.5 417.6 L192.4 418.4 L194.4 419.1 L196.4 419.9 L198.4 420.6 L200.4 421.2 L202.4 421.8 L204.5 422.4 L206.6 423.0 L208.6 423.5 L210.8 424.0 L212.9 424.5 L215.0 425.0 L217.1 425.4 L219.3 425.8 L221.4 426.2 L223.6 426.6 L225.8 426.9 L227.9 427.3 L230.1 427.6 L232.3 427.9 L234.5 428.2 L236.7 428.4 L238.9 428.7 L241.1 429.0 L243.3 429.2 L245.5 429.4 L247.7 429.7 L249.9 429.9 L252.1 430.1 L254.3 430.3 L256.5 430.5 L258.7 430.6 L260.9 430.8 L263.1 431.0 L265.4 431.2 L267.6 431.3 L269.8 431.5 L272.0 431.6 L274.2 431.7 L276.4 431.9 L278.7 432.0 L280.9 432.1 L283.1 432.2 L285.3 432.4 L287.5 432.5 L289.8 432.6 L292.0 432.7 L294.2 432.8 L296.4 432.9 L298.7 433.0 L300.9 433.1 L303.1 433.2 L305.3 433.3 L307.5 433.3 L309.8 433.4 L312.0 433.5 L314.2 433.6 L316.4 433.7 L318.7 433.7 L320.9 433.8 L323.1 433.9 L325.3 433.9 L327.6 434.0 L329.8 434.1 L332.0 434.1 L334.2 434.2 L336.5 434.3 L338.7 434.3 L340.9 434.4 L343.1 434.4 L345.4 434.5 L347.6 434.5 L349.8 434.6 L352.0 434.6 L354.3 434.7 L356.5 434.7 L358.7 434.8 L360.9 434.8 L363.2 434.9 L365.4 434.9 L367.6 434.9 L369.8 435.0 L372.1 435.0 L374.3 435.1 L376.5 435.1 L378.7 435.1 L381.0 435.2 L383.2 435.2 L385.4 435.2 L387.6 435.3 L389.9 435.3 L392.1 435.4 L394.3 435.4 L396.5 435.4 L398.8 435.4 L401.0 435.5 L403.2 435.5 L405.4 435.5 L407.7 435.6 L409.9 435.6 L412.1 435.6 L414.3 435.6 L416.6 435.7 L418.8 435.7 L421.0 435.7 L423.2 435.8 L425.5 435.8 L427.7 435.8 L429.9 435.8 L432.1 435.8 L434.4 435.9 L436.6 435.9 L438.8 435.9 L441.1 435.9 L443.3 436.0 L445.5 436.0 L447.7 436.0 L450.0 436.0 L452.2 436.0 L454.4 436.1 L456.6 436.1 L458.9 436.1 L461.1 436.1 L463.3 436.1 L465.5 436.2 L467.8 436.2 L470.0 436.2 L472.2 436.2 L474.4 436.2 L476.7 436.2 L478.9 436.3 L481.1 436.3 L483.3 436.3 L485.6 436.3 L487.8 436.3 L490.0 436.3 L492.3 436.4 L494.5 436.4 L496.7 436.4 L498.9 436.4 L501.2 436.4 L503.4 436.4 L505.6 436.4 L507.8 436.5 L510.1 436.5 L512.3 436.5 L514.5 436.5 L516.7 436.5 L519.0 436.5 L521.2 436.5 L523.4 436.5 L525.6 436.6 L527.9 436.6 L530.1 436.6 L532.3 436.6 L534.5 436.6 L536.8 436.6 L539.0 436.6 L541.2 436.6 L543.5 436.7 L545.7 436.7 L547.9 436.7 L550.1 436.7 L552.4 436.7 L554.6 436.7 L556.8 436.7 L559.0 436.7 L561.3 436.7 L563.5 436.7 L565.7 436.8 L567.9 436.8 L570.2 436.8 L572.4 436.8 L574.6 436.8 L576.8 436.8 L579.1 436.8 L581.3 436.8 L583.5 436.8 L585.8 436.8 L588.0 436.8 L590.2 436.9 L592.4 436.9 L594.7 436.9 L596.9 436.9 L599.1 436.9 L601.3 436.9 L603.6 436.9 L605.8 436.9 L608.0 436.9 L610.2 436.9 L612.5 436.9 L614.7 436.9 L616.9 436.9 L619.1 437.0 L621.4 437.0 L623.6 437.0 L625.8 437.0 L628.0 437.0 L630.3 437.0 L632.5 437.0 L634.7 437.0 L637.0 437.0 L639.2 437.0 L641.4 437.0 L643.6 437.0 L645.9 437.0 L648.1 437.0 L650.3 437.1 L652.5 437.1 L654.8 437.1 L657.0 437.1 L659.2 437.1 L661.4 437.1 L663.7 437.1 L665.9 437.1 L668.1 437.1 L670.3 437.1 L670.5 437.1"/>
<path d="M424.1 48.6 L422.6 48.6 L420.7 48.6 L418.5 48.6 L416.3 48.6 L414.1 48.6 L411.8 48.6 L409.6 48.6 L407.4 48.6 L405.2 48.6 L402.9 48.7 L400.7 48.7 L398.5 48.7 L396.3 48.7 L394.0 48.7 L391.8 48.7 L389.6 48.7 L387.4 48.7 L385.1 48.7 L382.9 48.7 L380.7 48.7 L378.4 48.7 L376.2 48.7 L374.0 48.8 L371.8 48.8 L369.5 48.8 L367.3 48.8 L365.1 48.8 L362.9 48.8 L360.6 48.8 L358.4 48.8 L356.2 48.8 L354.0 48.8 L351.7 48.9 L349.5 48.9 L347.3 48.9 L345.1 48.9 L342.8 48.9 L340.6 48.9 L338.4 48.9 L336.1 48.9 L333.9 49.0 L331.7 49.0 L329.5 49.0 L327.2 49.0 L325.0 49.0 L322.8 49.0 L320.6 49.1 L318.3 49.1 L316.1 49.1 L313.9 49.1 L311.7 49.1 L309.4 49.1 L307.2 49.2 L305.0 49.2 L302.8 49.2 L300.5 49.2 L298.3 49.3 L296.1 49.3 L293.9 49.3 L291.6 49.3 L289.4 49.4 L287.2 49.4 L285.0 49.4 L282.7 49.4 L280.5 49.5 L278.3 49.5 L276.0 49.5 L273.8 49.6 L271.6 49.6 L269.4 49.6 L267.1 49.7 L264.9 49.7 L262.7 49.8 L260.5 49.8 L258.2 49.9 L256.0 49.9 L253.8 50.0 L251.6 50.0 L249.3 50.1 L247.1 50.1 L244.9 50.2 L242.7 50.2 L240.4 50.3 L238.2 50.4 L236.0 50.5 L233.8 50.5 L231.6 50.6 L229.3 50.7 L227.1 50.8 L224.9 50.9 L222.7 51.0 L220.4 51.1 L218.2 51.2 L216.0 51.3 L213.8 51.5 L211.6 51.6 L209.3 51.7 L207.1 51.9 L204.9 52.1 L202.7 52.2 L200.5 52.4 L198.3 52.6 L196.1 52.8 L193.9 53.1 L191.7 53.3 L189.5 53.6 L187.3 53.8 L185.1 54.1 L182.9 54.5 L180.8 54.8 L178.6 55.2 L176.5 55.6 L174.3 56.1 L172.2 56.6 L170.1 57.1 L168.1 57.7 L166.0 58.3 L164.0 59.0 L162.1 59.8 L160.2 60.6 L158.3 61.4 L156.5 62.3 L154.8 63.3 L153.1 64.4 L151.5 65.5 L150.0 66.6 L148.6 67.8 L147.2 69.0 L146.0 70.3 L144.8 71.6 L143.7 73.0 L142.6 74.4 L141.6 75.8 L140.7 77.2 L139.8 78.6 L139.0 80.1 L138.2 81.5 L137.5 83.0 L136.8 84.5 L136.2 86.0 L135.6 87.5 L135.0 89.0 L134.4 90.5 L133.9 92.0 L133.4 93.5 L132.9 95.1 L132.5 96.6 L132.1 98.1 L131.7 99.6 L131.3 101.2 L130.9 102.7 L130.5 104.3 L130.2 105.8 L129.9 107.3 L129.5 108.9 L129.2 110.4 L128.9 112.0 L128.7 113.5 L128.4 115.1 L128.1 116.6 L127.9 118.2 L127.6 119.7 L127.4 121.3 L127.2 122.8 L126.9 124.4 L126.7 125.9 L126.5 127.5 L126.3 129.0 L126.1 130.6 L125.9 132.2 L125.8 133.7 L125.6 135.3 L125.4 136.8 L125.3 138.4 L125.1 139.9 L124.9 141.5 L124.8 143.0 L124.6 144.6 L124.5 146.2 L124.4 147.7 L124.2 149.3 L124.1 150.8 L124.0 152.4 L123.8 153.9 L123.7 155.5 L123.6 157.1 L123.5 158.6 L123.4 160.2 L123.3 161.7 L123.2 163.3 L123.1 164.8 L123.0 166.4 L122.9 168.0 L122.8 169.5 L122.7 171.1 L122.6 172.6 L122.5 174.2 L122.4 175.8 L122.3 177.3 L122.3 178.9 L122.2 180.4 L122.1 182.0 L122.0 183.6 L122.0 185.1 L121.9 186.7 L121.8 188.2 L121.7 189.8 L121.7 191.3 L121.6 192.9 L121.6 194.5 L121.5 196.0 L121.4 197.6 L121.4 199.1 L121.3 200.7 L121.3 202.3 L121.2 203.8 L121.2 205.4 L121.1 206.9 L121.1 208.5 L121.0 210.1 L121.0 211.6 L120.9 213.2 L120.9 214.7 L120.9 216.3 L120.8 217.9 L120.8 219.4 L120.8 221.0 L120.7 222.5 L120.7 224.1 L120.7 225.7 L120.6 227.2 L120.6 228.8 L120.6 230.3 L120.5 231.9 L120.5 233.5 L120.5 235.0 L120.5 236.6 L120.4 238.1 L120.4 239.7 L120.4 241.3 L120.4 242.8 L120.4 244.4 L120.4 245.9 L120.3 247.5 L120.3 249.1 L120.3 250.6 L120.3 252.2 L120.3 253.7 L120.3 255.3 L120.3 256.9 L120.3 258.4 L120.3 260.0 L120.3 261.5 L120.3 263.1 L120.3 264.7 L120.3 266.2 L120.3 267.8 L120.3 269.3 L120.3 270.9 L120.3 272.5 L120.3 274.0 L120.3 275.6 L120.3 277.1 L120.3 278.7 L120.3 280.3 L120.3 281.8 L120.3 283.4 L120.4 284.9 L120.4 286.5 L120.4 288.1 L120.4 289.6 L120.4 291.2 L120.5 292.7 L120.5 294.3 L120.5 295.9 L120.5 297.4 L120.6 299.0 L120.6 300.5 L120.6 302.1 L120.7 303.7 L120.7 305.2 L120.7 306.8 L120.8 308.3 L120.8 309.9 L120.8 311.5 L120.9 313.0 L120.9 314.6 L121.0 316.1 L121.0 317.7 L121.1 319.3 L121.1 320.8 L121.2 322.4 L121.3 323.9 L121.3 325.5 L121.4 327.1 L121.5 328.6 L121.5 330.2 L121.6 331.7 L121.7 333.3 L121.7 334.8 L121.8 336.4 L121.9 338.0 L122.0 339.5 L122.1 341.1 L122.2 342.6 L122.3 344.2 L122.4 345.8 L122.5 347.3 L122.6 348.9 L122.7 350.4 L122.8 352.0 L122.9 353.6 L123.1 355.1 L123.2 356.7 L123.3 358.2 L123.5 359.8 L123.6 361.3 L123.8 362.9 L123.9 364.4 L124.1 366.0 L124.2 367.6 L124.4 369.1 L124.6 370.7 L124.8 372.2 L125.0 373.8 L125.2 375.3 L125.4 376.9 L125.7 378.4 L125.9 380.0 L126.2 381.5 L126.4 383.1 L126.7 384.6 L127.0 386.2 L127.3 387.7 L127.6 389.3 L128.0 390.8 L128.3 392.3 L128.7 393.9 L129.1 395.4 L129.5 397.0 L130.0 398.5 L130.4 400.0 L131.0 401.5 L131.5 403.0 L132.1 404.5 L132.7 406.0 L133.4 407.5 L134.1 409.0 L134.8 410.5 L135.7 411.9 L136.6 413.3 L137.5 414.8 L138.5 416.1 L139.7 417.5 L140.9 418.8 L142.1 420.1 L143.5 421.3 L145.0 422.5 L146.6 423.6 L148.2 424.6 L150.0 425.6 L151.8 426.5 L153.7 427.3 L155.6 428.1 L157.6 428.8 L159.6 429.4 L161.7 430.0 L163.8 430.6 L165.9 431.1 L168.0 431.5 L170.2 431.9 L172.3 432.3 L174.5 432.6 L176.7 432.9 L178.9 433.2 L181.1 433.5 L183.3 433.7 L185.5 434.0 L187.7 434.2 L189.9 434.4 L192.1 434.5 L194.3 434.7 L196.5 434.9 L198.7 435.0 L201.0 435.2 L203.2 435.3 L205.4 435.4 L207.6 435.5 L209.8 435.6 L212.1 435.7 L214.3 435.8 L216.5 435.9 L218.7 436.0 L220.9 436.1 L223.2 436.2 L225.4 436.2 L227.6 436.3 L229.8 436.4 L232.1 436.4 L234.3 436.5 L236.5 436.5 L238.7 436.6 L241.0 436.6 L243.2 436.7 L245.4 436.7 L247.6 436.8 L249.9 436.8 L252.1 436.9 L254.3 436.9 L256.5 437.0 L258.8 437.0 L261.0 437.0 L263.2 437.1 L265.4 437.1 L267.7 437.1 L269.9 437.2 L272.1 437.2 L274.3 437.2 L276.6 437.2 L278.8 437.3 L281.0 437.3 L283.2 437.3 L285.5 437.3 L287.7 437.4 L289.9 437.4 L292.2 437.4 L294.4 437.4 L296.6 437.4 L298.8 437.5 L301.1 437.5 L303.3 437.5 L305.5 437.5 L307.7 437.5 L310.0 437.6 L312.2 437.6 L314.4 437.6 L316.6 437.6 L318.9 437.6 L321.1 437.6 L323.3 437.6 L325.5 437.7 L327.8 437.7 L330.0 437.7 L332.2 437.7 L334.4 437.7 L336.7 437.7 L338.9 437.7 L341.1 437.7 L343.4 437.8 L345.6 437.8 L347.8 437.8 L350.0 437.8 L352.3 437.8 L354.5 437.8 L356.7 437.8 L358.9 437.8 L361.2 437.8 L363.4 437.8 L365.6 437.8 L367.8 437.9 L370.1 437.9 L372.3 437.9 L374.5 437.9 L376.7 437.9 L379.0 437.9 L381.2 437.9 L383.4 437.9 L385.6 437.9 L387.9 437.9 L390.1 437.9 L392.3 437.9 L394.6 437.9 L396.8 438.0 L399.0 438.0 L401.2 438.0 L403.5 438.0 L405.7 438.0 L407.9 438.0 L410.1 438.0 L412.4 438.0 L414.6 438.0 L416.8 438.0 L419.0 438.0 L421.3 438.0 L423.5 438.0 L425.7 438.0 L427.9 438.0 L430.2 438.0 L432.4 438.0 L434.6 438.0 L436.9 438.1 L439.1 438.1 L441.3 438.1 L443.5 438.1 L445.8 438.1 L448.0 438.1 L450.2 438.1 L452.4 438.1 L454.7 438.1 L456.9 438.1 L459.1 438.1 L461.3 438.1 L463.6 438.1 L465.8 438.1 L468.0 438.1 L470.2 438.1 L472.5 438.1 L474.7 438.1 L476.9 438.1 L479.1 438.1 L481.4 438.1 L483.6 438.1 L485.8 438.1 L488.1 438.1 L490.3 438.1 L492.5 438.1 L494.7 438.1 L497.0 438.2 L499.2 438.2 L501.4 438.2 L503.6 438.2 L505.9 438.2 L508.1 438.2 L510.3 438.2 L512.5 438.2 L514.8 438.2 L517.0 438.2 L519.2 438.2 L521.4 438.2 L523.7 438.2 L525.9 438.2 L528.1 438.2 L530.4 438.2 L532.6 438.2 L534.8 438.2 L537.0 438.2 L539.3 438.2 L541.5 438.2 L543.7 438.2 L545.9 438.2 L548.2 438.2 L550.4 438.2 L552.6 438.2 L554.8 438.2 L557.1 438.2 L559.3 438.2 L561.5 438.2 L563.7 438.2 L566.0 438.2 L568.2 438.2 L570.4 438.2 L572.7 438.2 L574.9 438.2 L577.1 438.2 L579.3 438.2 L581.6 438.2 L583.8 438.2 L586.0 438.2 L588.2 438.2 L590.5 438.2 L592.7 438.2 L594.9 438.2 L597.1 438.3 L599.4 438.3 L601.6 438.3 L603.8 438.3 L606.0 438.3 L608.3 438.3 L610.5 438.3 L612.7 438.3 L614.9 438.3 L617.2 438.3 L619.4 438.3 L621.6 438.3 L623.9 438.3 L626.1 438.3 L628.3 438.3 L630.5 438.3 L632.8 438.3 L635.0 438.3 L637.2 438.3 L639.4 438.3 L641.7 438.3 L643.9 438.3 L646.1 438.3 L648.3 438.3 L650.6 438.3 L652.8 438.3 L655.0 438.3 L657.2 438.3 L659.5 438.3 L661.7 438.3 L663.9 438.3 L666.2 438.3 L668.4 438.3 L670.5 438.3"/>
</g>
<path d="M102.8 273.8 L106.9 271.9 L110.9 269.9 L115.0 268.0 L119.1 266.0 L123.1 264.1 L127.2 262.1 L131.3 260.1 L135.3 258.0 L139.4 256.0 L143.5 253.9 L147.5 251.8 L151.6 249.7 L155.7 247.6 L159.7 245.5 L163.8 243.3 L167.9 241.2 L171.9 239.0 L176.0 236.8 L180.1 234.5 L184.1 232.3 L188.2 230.0 L192.3 227.7 L196.4 225.4 L200.4 223.0 L204.5 220.7 L208.6 218.3 L212.6 215.9 L216.7 213.4 L220.8 211.0 L224.8 208.5 L228.9 206.0 L233.0 203.5 L237.0 200.9 L241.1 198.3 L245.2 195.7 L249.2 193.1 L253.3 190.5 L257.4 187.8 L261.4 185.1 L265.5 182.3 L269.6 179.6 L273.6 176.8 L277.7 174.0 L281.8 171.1 L285.8 168.2 L289.9 165.3 L294.0 162.4 L298.0 159.4 L302.1 156.4 L306.2 153.4 L310.2 150.3 L314.3 147.2 L318.4 144.1 L322.4 140.9 L326.5 137.7 L330.6 134.4 L334.6 131.2 L338.7 127.8 L342.8 124.5 L346.8 121.1 L350.9 117.7 L355.0 114.2 L359.0 110.7 L363.1 107.2 L367.2 103.6 L371.2 100.0 L375.3 96.3 L379.4 92.6 L383.5 88.8 L387.5 85.0 L391.6 81.2 L395.7 77.3 L399.7 73.3 L403.8 69.3 L407.9 65.3 L411.9 61.2 L416.0 57.0 L420.1 52.8 L424.1 48.6 L421.8 53.5 L419.5 58.3 L417.2 63.3 L414.9 68.2 L412.6 73.2 L410.3 78.3 L408.0 83.4 L405.7 88.5 L403.4 93.7 L401.1 98.9 L398.8 104.1 L396.5 109.4 L394.2 114.7 L391.9 120.1 L389.6 125.6 L387.3 131.0 L385.0 136.6 L382.7 142.1 L380.4 147.8 L378.1 153.5 L375.8 159.2 L373.5 165.0 L371.2 170.9 L368.9 176.8 L366.6 182.8 L364.3 188.8 L362.0 194.9 L359.7 201.1 L357.4 207.3 L355.1 213.6 L352.8 220.0 L350.5 226.5 L348.2 233.0 L345.9 239.6 L343.6 246.3 L341.3 253.1 L339.0 259.9 L336.7 266.9 L334.4 273.9 L332.1 281.0 L329.7 288.2 L327.4 295.6 L325.1 303.0 L322.8 310.5 L320.5 318.1 L318.2 325.9 L315.9 333.8 L313.6 341.7 L311.3 349.8 L309.0 358.1 L306.7 366.4 L304.4 374.9 L302.1 383.5 L299.8 392.3 L297.5 401.3 L295.2 410.3 L292.9 419.6 L290.6 429.0 L288.3 438.6 L102.8 438.6Z" fill="rgba(0,0,255,0.2)" stroke="none"/>
<path d="M102.8 273.8 L106.9 271.9 L110.9 269.9 L115.0 268.0 L119.1 266.0 L123.1 264.1 L127.2 262.1 L131.3 260.1 L135.3 258.0 L139.4 256.0 L143.5 253.9 L147.5 251.8 L151.6 249.7 L155.7 247.6 L159.7 245.5 L163.8 243.3 L167.9 241.2 L171.9 239.0 L176.0 236.8 L180.1 234.5 L184.1 232.3 L188.2 230.0 L192.3 227.7 L196.4 225.4 L200.4 223.0 L204.5 220.7 L208.6 218.3 L212.6 215.9 L216.7 213.4 L220.8 211.0 L224.8 208.5 L228.9 206.0 L233.0 203.5 L237.0 200.9 L241.1 198.3 L245.2 195.7 L249.2 193.1 L253.3 190.5 L257.4 187.8 L261.4 185.1 L265.5 182.3 L269.6 179.6 L273.6 176.8 L277.7 174.0 L281.8 171.1 L285.8 168.2 L289.9 165.3 L294.0 162.4 L298.0 159.4 L302.1 156.4 L306.2 153.4 L310.2 150.3 L314.3 147.2 L318.4 144.1 L322.4 140.9 L326.5 137.7 L330.6 134.4 L334.6 131.2 L338.7 127.8 L342.8 124.5 L346.8 121.1 L350.9 117.7 L355.0 114.2 L359.0 110.7 L363.1 107.2 L367.2 103.6 L371.2 100.0 L375.3 96.3 L379.4 92.6 L383.5 88.8 L387.5 85.0 L391.6 81.2 L395.7 77.3 L399.7 73.3 L403.8 69.3 L407.9 65.3 L411.9 61.2 L416.0 57.0 L420.1 52.8 L424.1 48.6" fill="none" stroke="rgba(0,0,255,0.2)" stroke-width="2.2"/>
<path d="M424.1 48.6 L421.8 53.5 L419.5 58.3 L417.2 63.3 L414.9 68.2 L412.6 73.2 L410.3 78.3 L408.0 83.4 L405.7 88.5 L403.4 93.7 L401.1 98.9 L398.8 104.1 L396.5 109.4 L394.2 114.7 L391.9 120.1 L389.6 125.6 L387.3 131.0 L385.0 136.6 L382.7 142.1 L380.4 147.8 L378.1 153.5 L375.8 159.2 L373.5 165.0 L371.2 170.9 L368.9 176.8 L366.6 182.8 L364.3 188.8 L362.0 194.9 L359.7 201.1 L357.4 207.3 L355.1 213.6 L352.8 220.0 L350.5 226.5 L348.2 233.0 L345.9 239.6 L343.6 246.3 L341.3 253.1 L339.0 259.9 L336.7 266.9 L334.4 273.9 L332.1 281.0 L329.7 288.2 L327.4 295.6 L325.1 303.0 L322.8 310.5 L320.5 318.1 L318.2 325.9 L315.9 333.8 L313.6 341.7 L311.3 349.8 L309.0 358.1 L306.7 366.4 L304.4 374.9 L302.1 383.5 L299.8 392.3 L297.5 401.3 L295.2 410.3 L292.9 419.6 L290.6 429.0 L288.3 438.6" fill="none" stroke="rgba(0,0,255,0.2)" stroke-width="2.2"/>
<path d="M102.8 273.8 L106.9 271.9 L110.9 269.9 L115.0 268.0 L119.1 266.0 L123.1 264.1 L127.2 262.1 L131.3 260.1 L135.3 258.0 L139.4 256.0 L143.5 253.9 L147.5 251.8 L151.6 249.7 L155.7 247.6 L159.7 245.5 L163.8 243.3 L167.9 241.2 L171.9 239.0 L176.0 236.8 L180.1 234.5 L184.1 232.3 L188.2 230.0 L192.3 227.7 L196.4 225.4 L200.4 223.0 L204.5 220.7 L208.6 218.3 L212.6 215.9 L216.7 213.4 L220.8 211.0 L224.8 208.5 L228.9 206.0 L233.0 203.5 L237.0 200.9 L241.1 198.3 L245.2 195.7 L249.2 193.1 L253.3 190.5 L257.4 187.8 L261.4 185.1 L265.5 182.3 L269.6 179.6 L273.6 176.8 L277.7 174.0 L281.8 171.1 L285.8 168.2 L289.9 165.3 L294.0 162.4 L298.0 159.4 L302.1 156.4 L306.2 153.4 L310.2 150.3 L314.3 147.2 L318.4 144.1 L322.4 140.9 L326.5 137.7 L330.6 134.4 L334.6 131.2 L338.7 127.8 L342.8 124.5 L346.8 121.1 L350.9 117.7 L355.0 114.2 L359.0 110.7 L363.1 107.2 L367.2 103.6 L371.2 100.0 L375.3 96.3 L379.4 92.6 L383.5 88.8 L387.5 85.0 L391.6 81.2 L395.7 77.3 L399.7 73.3 L403.8 69.3 L407.9 65.3 L411.9 61.2 L416.0 57.0 L420.1 52.8 L424.1 48.6" fill="none" stroke="#ff0000" stroke-width="2.7" stroke-dasharray="7.8 6 2.1 6" stroke-dashoffset="13.8"/>
<path d="M424.1 48.6 L421.8 53.5 L419.5 58.3 L417.2 63.3 L414.9 68.2 L412.6 73.2 L410.3 78.3 L408.0 83.4 L405.7 88.5 L403.4 93.7 L401.1 98.9 L398.8 104.1 L396.5 109.4 L394.2 114.7 L391.9 120.1 L389.6 125.6 L387.3 131.0 L385.0 136.6 L382.7 142.1 L380.4 147.8 L378.1 153.5 L375.8 159.2 L373.5 165.0 L371.2 170.9 L368.9 176.8 L366.6 182.8 L364.3 188.8 L362.0 194.9 L359.7 201.1 L357.4 207.3 L355.1 213.6 L352.8 220.0 L350.5 226.5 L348.2 233.0 L345.9 239.6 L343.6 246.3 L341.3 253.1 L339.0 259.9 L336.7 266.9 L334.4 273.9 L332.1 281.0 L329.7 288.2 L327.4 295.6 L325.1 303.0 L322.8 310.5 L320.5 318.1 L318.2 325.9 L315.9 333.8 L313.6 341.7 L311.3 349.8 L309.0 358.1 L306.7 366.4 L304.4 374.9 L302.1 383.5 L299.8 392.3 L297.5 401.3 L295.2 410.3 L292.9 419.6 L290.6 429.0 L288.3 438.6" fill="none" stroke="#0000ff" stroke-width="2.7" stroke-dasharray="6.8 6.685" stroke-dashoffset="8.035"/>
<path d="M424.1 48.6 V438.6" fill="none" stroke="#b9671f" stroke-width="2.7" stroke-dasharray="1.7 6.73" stroke-dashoffset="8.08"/>
</g>
<rect x="102.8" y="48.6" width="556.6" height="390.0" fill="none" stroke="#1a1a1a" stroke-width="1.15"/>
<path d="M102.8 438.6 v-7.0 M102.8 48.6 v7.0 M102.8 48.6 h7.0 M659.4 48.6 h-7.0 M130.6 438.6 v-4.1 M130.6 48.6 v4.1 M102.8 68.1 h4.1 M659.4 68.1 h-4.1 M158.5 438.6 v-4.1 M158.5 48.6 v4.1 M102.8 87.6 h4.1 M659.4 87.6 h-4.1 M186.3 438.6 v-4.1 M186.3 48.6 v4.1 M102.8 107.1 h4.1 M659.4 107.1 h-4.1 M214.1 438.6 v-7.0 M214.1 48.6 v7.0 M102.8 126.6 h7.0 M659.4 126.6 h-7.0 M241.9 438.6 v-4.1 M241.9 48.6 v4.1 M102.8 146.1 h4.1 M659.4 146.1 h-4.1 M269.8 438.6 v-4.1 M269.8 48.6 v4.1 M102.8 165.6 h4.1 M659.4 165.6 h-4.1 M297.6 438.6 v-4.1 M297.6 48.6 v4.1 M102.8 185.1 h4.1 M659.4 185.1 h-4.1 M325.4 438.6 v-7.0 M325.4 48.6 v7.0 M102.8 204.6 h7.0 M659.4 204.6 h-7.0 M353.2 438.6 v-4.1 M353.2 48.6 v4.1 M102.8 224.1 h4.1 M659.4 224.1 h-4.1 M381.1 438.6 v-4.1 M381.1 48.6 v4.1 M102.8 243.6 h4.1 M659.4 243.6 h-4.1 M408.9 438.6 v-4.1 M408.9 48.6 v4.1 M102.8 263.1 h4.1 M659.4 263.1 h-4.1 M436.7 438.6 v-7.0 M436.7 48.6 v7.0 M102.8 282.6 h7.0 M659.4 282.6 h-7.0 M464.6 438.6 v-4.1 M464.6 48.6 v4.1 M102.8 302.1 h4.1 M659.4 302.1 h-4.1 M492.4 438.6 v-4.1 M492.4 48.6 v4.1 M102.8 321.6 h4.1 M659.4 321.6 h-4.1 M520.2 438.6 v-4.1 M520.2 48.6 v4.1 M102.8 341.1 h4.1 M659.4 341.1 h-4.1 M548.0 438.6 v-7.0 M548.0 48.6 v7.0 M102.8 360.6 h7.0 M659.4 360.6 h-7.0 M575.9 438.6 v-4.1 M575.9 48.6 v4.1 M102.8 380.1 h4.1 M659.4 380.1 h-4.1 M603.7 438.6 v-4.1 M603.7 48.6 v4.1 M102.8 399.6 h4.1 M659.4 399.6 h-4.1 M631.5 438.6 v-4.1 M631.5 48.6 v4.1 M102.8 419.1 h4.1 M659.4 419.1 h-4.1 M659.4 438.6 v-7.0 M659.4 48.6 v7.0 M102.8 438.6 h7.0 M659.4 438.6 h-7.0 " fill="none" stroke="#1a1a1a" stroke-width="0.95"/>
<g style="filter:grayscale(1)"><text x="100.7" y="463.1" text-anchor="middle" textLength="27.6">0.0</text><text x="212.0" y="463.1" text-anchor="middle" textLength="27.6">0.2</text><text x="323.3" y="463.1" text-anchor="middle" textLength="27.6">0.4</text><text x="434.6" y="463.1" text-anchor="middle" textLength="27.6">0.6</text><text x="545.9" y="463.1" text-anchor="middle" textLength="27.6">0.8</text><text x="656.9" y="463.1" text-anchor="middle" textLength="26.4">1.0</text><text x="92.7" y="56.7" text-anchor="end" textLength="27.4">0.0</text><text x="92.7" y="134.7" text-anchor="end" textLength="27.4">0.2</text><text x="92.7" y="212.7" text-anchor="end" textLength="27.4">0.4</text><text x="92.7" y="290.7" text-anchor="end" textLength="27.4">0.6</text><text x="92.7" y="368.7" text-anchor="end" textLength="27.4">0.8</text><text x="92.7" y="446.7" text-anchor="end" textLength="26.0">1.0</text><path d="M52.0 128.2 h11.5 M52.0 206.2 h11.5 M52.0 284.2 h11.5 M52.0 362.2 h11.5 M55.3 440.2 h11.5 " fill="none" stroke="#000" stroke-width="1.35"/></g>
<g fill="none" stroke="#000" stroke-linecap="round" stroke-linejoin="round">
<path d="M382.2 486 L382.6 488.4" stroke-width="0.9"/>
<path d="M382.2 488.5 L386.6 488.7" stroke-width="1.5"/>
<path d="M383.4 488.6 C381.6 488.7 380 489 378.8 489.9 C377.6 490.8 377 491.6 377.1 492.8 C377.2 494 377.4 494.7 378.3 495.3 C379.3 496 380.2 496.2 381.4 496.2 C382.4 496.2 383.4 496.1 384.3 496" stroke-width="0.95"/>
<path d="M378.4 490.3 C377.4 491.1 377 491.9 377.1 492.9 C377.2 494 377.6 494.8 378.5 495.4" stroke-width="1.7"/>
<path d="M381.9 496.2 C380 496.7 378.2 497.4 376.9 498.6 C375.6 499.8 374.9 500.6 375 501.7 C375.1 502.8 375.5 503.5 376.6 504.2 C377.8 505 379.4 505.5 380.8 506.1 C382.2 506.7 383.3 507.3 384.1 508 C384.8 508.6 385 509.1 384.8 509.7 C384.5 510.5 384.3 510.8 383.6 511.1 C382.9 511.5 382.1 511.5 381.3 511.4 C380.6 511.2 380.1 510.9 379.7 510.5" stroke-width="0.95"/>
<path d="M375.3 502.3 C375.6 503.1 376 503.7 376.9 504.3 C378 505 379.4 505.5 380.8 506.1 C382 506.6 383 507.1 383.8 507.7" stroke-width="1.9"/>
</g>
<path d="M17.8 249.8 C15.5 249.6 13.4 248 13.5 246.2 C13.6 244.6 14.8 243.8 16 243.9 C17.2 244 18.2 245.1 19.4 245.7 C20.6 246.3 22 246.8 23.2 246.7 C24.4 246.6 25.2 246.4 25.7 245.6 C26.3 244.8 26.5 244.2 26.4 243.3 C26.3 242.2 25.8 241.3 25 240.5 C24 239.5 22.6 238.9 21.2 238.6 C19.6 238.2 17.9 237.8 15.4 238" fill="none" stroke="#000" stroke-width="1.0" stroke-linecap="round"/><path d="M16.6 244.1 C17.6 244.5 18.4 245.2 19.4 245.7 C20.6 246.3 22 246.8 23.2 246.7 C24.2 246.6 24.9 246.4 25.4 245.9" fill="none" stroke="#000" stroke-width="1.9" stroke-linecap="round"/><circle cx="14.7" cy="239" r="1.3" fill="#000"/>
</svg>
</body></html>
